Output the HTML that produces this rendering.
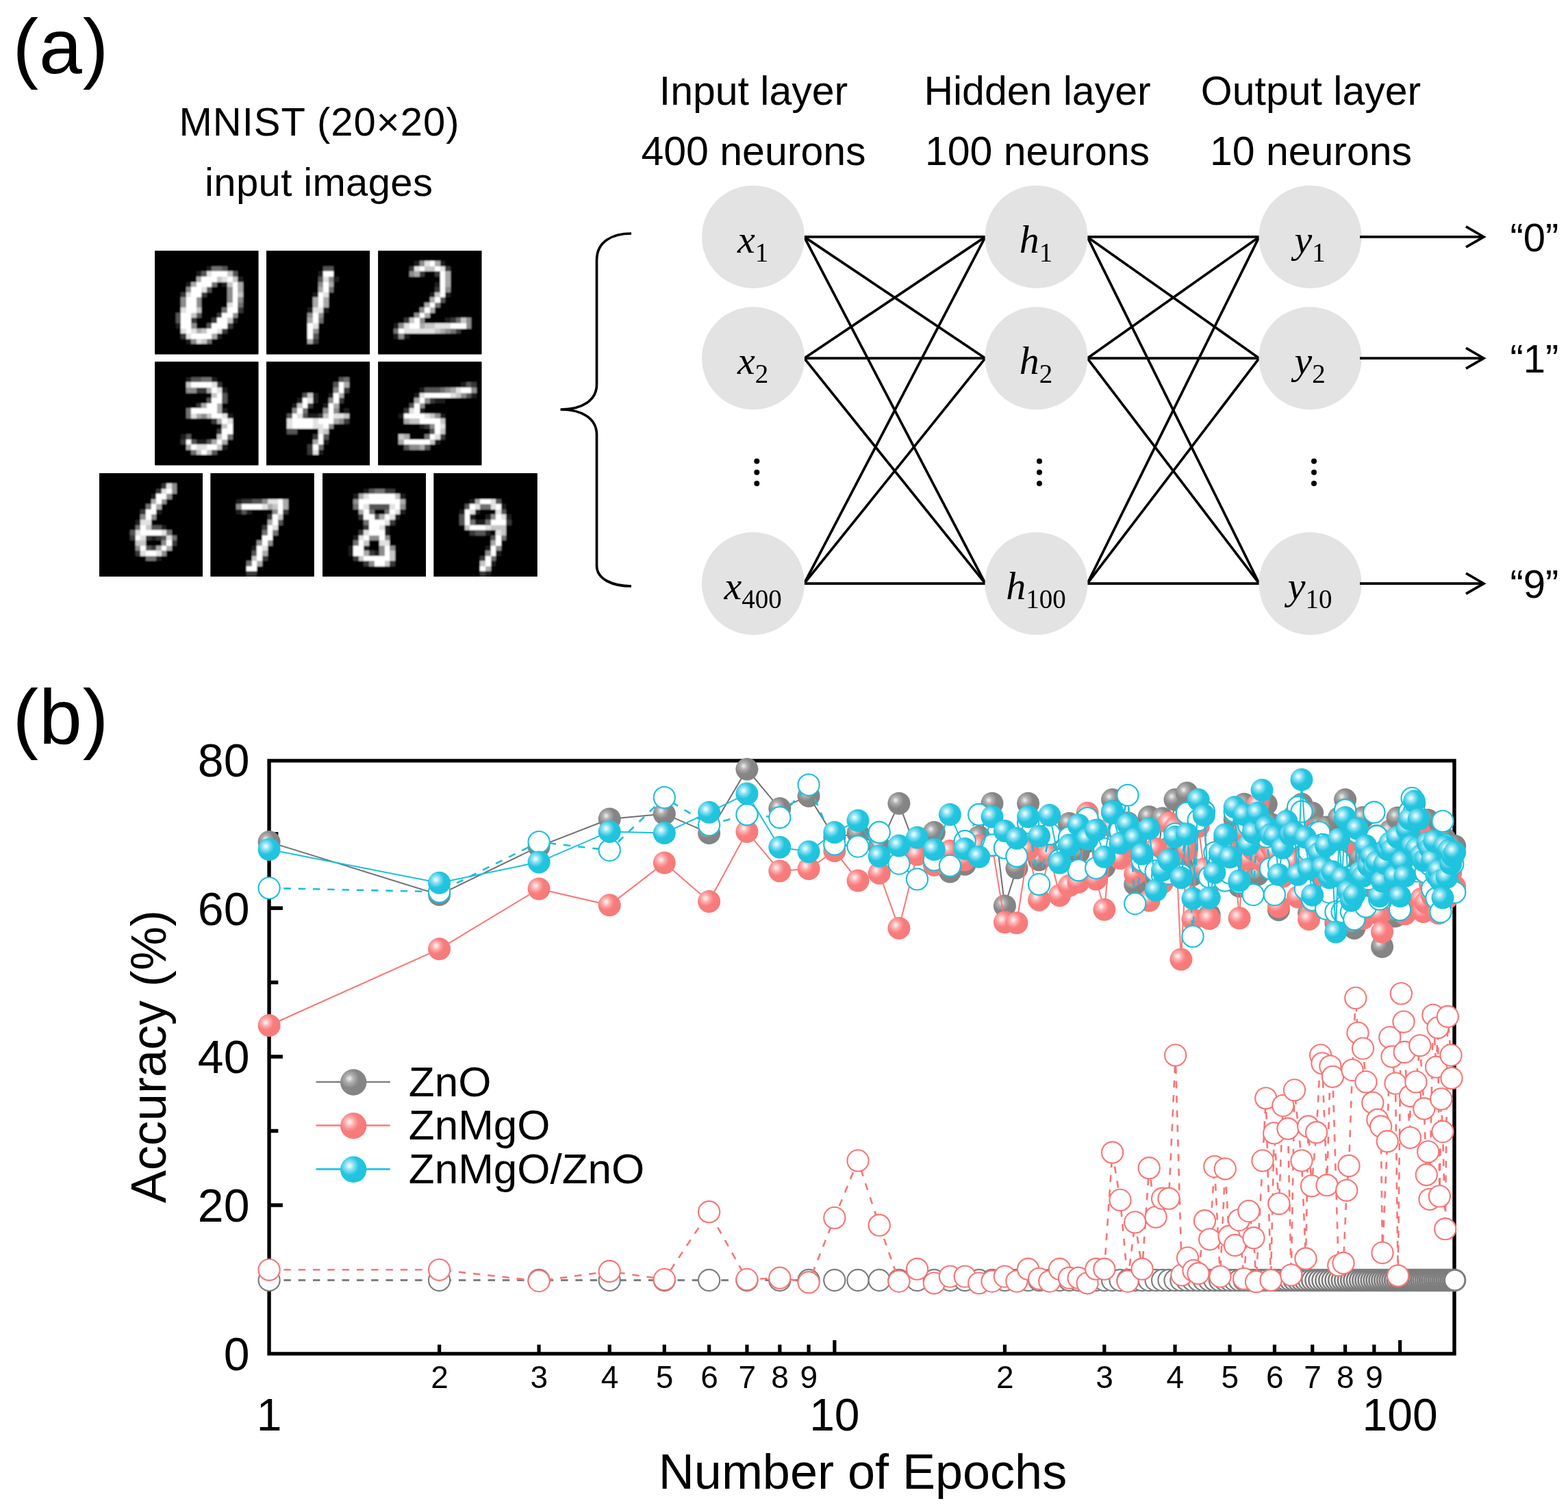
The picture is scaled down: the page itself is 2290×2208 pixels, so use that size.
<!DOCTYPE html>
<html><head><meta charset="utf-8"><title>Figure</title>
<style>html,body{margin:0;padding:0;background:#fff;} svg{display:block;}</style>
</head><body>
<svg width="2290" height="2208" viewBox="0 0 2290 2208">

<defs>
 <radialGradient id="gC" cx="0.35" cy="0.36" r="0.66" fx="0.35" fy="0.36">
  <stop offset="0" stop-color="#f2fcff"/><stop offset="0.1" stop-color="#d2f4fa"/><stop offset="0.24" stop-color="#8fe2f2"/>
  <stop offset="0.4" stop-color="#56d2ea"/><stop offset="0.55" stop-color="#22c5df"/><stop offset="1" stop-color="#1ec3dd"/>
 </radialGradient>
 <radialGradient id="gP" cx="0.35" cy="0.36" r="0.66" fx="0.35" fy="0.36">
  <stop offset="0" stop-color="#fff2f2"/><stop offset="0.1" stop-color="#ffdede"/><stop offset="0.24" stop-color="#fcb4b4"/>
  <stop offset="0.4" stop-color="#fa9494"/><stop offset="0.55" stop-color="#f87c7c"/><stop offset="1" stop-color="#f77a7a"/>
 </radialGradient>
 <radialGradient id="gG" cx="0.35" cy="0.36" r="0.66" fx="0.35" fy="0.36">
  <stop offset="0" stop-color="#f0f0f0"/><stop offset="0.1" stop-color="#d8d8d8"/><stop offset="0.24" stop-color="#b0b0b0"/>
  <stop offset="0.4" stop-color="#9a9a9a"/><stop offset="0.55" stop-color="#868686"/><stop offset="1" stop-color="#838383"/>
 </radialGradient>
 <filter id="pxblur" filterUnits="userSpaceOnUse" x="0" y="0" width="20" height="20"><feGaussianBlur stdDeviation="0.16"/></filter>
</defs>
<rect width="2290" height="2208" fill="#fff"/>
<text x="18.5" y="106.5" font-family="'Liberation Sans', Arial, sans-serif" font-size="113" textLength="140" fill="#000">(a)</text>
<text x="466" y="197.9" font-family="'Liberation Sans', Arial, sans-serif" font-size="58" text-anchor="middle" textLength="409" fill="#000">MNIST (20×20)</text>
<text x="465.5" y="286" font-family="'Liberation Sans', Arial, sans-serif" font-size="58" text-anchor="middle" textLength="333" fill="#000">input images</text>
<rect x="226.3" y="366.3" width="151" height="151" fill="#000"/>
<g transform="translate(226.3,366.3) scale(7.5500)"><g filter="url(#pxblur)" shape-rendering="crispEdges"><rect width="20" height="20" fill="#000"/><rect x="10" y="3" width="1" height="1" fill="rgb(28,28,28)"/><rect x="11" y="3" width="1" height="1" fill="rgb(113,113,113)"/><rect x="12" y="3" width="1" height="1" fill="rgb(113,113,113)"/><rect x="13" y="3" width="1" height="1" fill="rgb(85,85,85)"/><rect x="8" y="4" width="1" height="1" fill="rgb(28,28,28)"/><rect x="9" y="4" width="1" height="1" fill="rgb(85,85,85)"/><rect x="10" y="4" width="1" height="1" fill="rgb(226,226,226)"/><rect x="11" y="4" width="1" height="1" fill="rgb(255,255,255)"/><rect x="12" y="4" width="1" height="1" fill="rgb(255,255,255)"/><rect x="13" y="4" width="1" height="1" fill="rgb(255,255,255)"/><rect x="14" y="4" width="1" height="1" fill="rgb(198,198,198)"/><rect x="15" y="4" width="1" height="1" fill="rgb(85,85,85)"/><rect x="8" y="5" width="1" height="1" fill="rgb(170,170,170)"/><rect x="9" y="5" width="1" height="1" fill="rgb(255,255,255)"/><rect x="10" y="5" width="1" height="1" fill="rgb(255,255,255)"/><rect x="11" y="5" width="1" height="1" fill="rgb(255,255,255)"/><rect x="12" y="5" width="1" height="1" fill="rgb(198,198,198)"/><rect x="13" y="5" width="1" height="1" fill="rgb(226,226,226)"/><rect x="14" y="5" width="1" height="1" fill="rgb(255,255,255)"/><rect x="15" y="5" width="1" height="1" fill="rgb(198,198,198)"/><rect x="16" y="5" width="1" height="1" fill="rgb(28,28,28)"/><rect x="6" y="6" width="1" height="1" fill="rgb(28,28,28)"/><rect x="7" y="6" width="1" height="1" fill="rgb(170,170,170)"/><rect x="8" y="6" width="1" height="1" fill="rgb(255,255,255)"/><rect x="9" y="6" width="1" height="1" fill="rgb(255,255,255)"/><rect x="10" y="6" width="1" height="1" fill="rgb(255,255,255)"/><rect x="11" y="6" width="1" height="1" fill="rgb(113,113,113)"/><rect x="13" y="6" width="1" height="1" fill="rgb(28,28,28)"/><rect x="14" y="6" width="1" height="1" fill="rgb(198,198,198)"/><rect x="15" y="6" width="1" height="1" fill="rgb(255,255,255)"/><rect x="16" y="6" width="1" height="1" fill="rgb(170,170,170)"/><rect x="6" y="7" width="1" height="1" fill="rgb(141,141,141)"/><rect x="7" y="7" width="1" height="1" fill="rgb(255,255,255)"/><rect x="8" y="7" width="1" height="1" fill="rgb(255,255,255)"/><rect x="9" y="7" width="1" height="1" fill="rgb(226,226,226)"/><rect x="10" y="7" width="1" height="1" fill="rgb(85,85,85)"/><rect x="14" y="7" width="1" height="1" fill="rgb(141,141,141)"/><rect x="15" y="7" width="1" height="1" fill="rgb(255,255,255)"/><rect x="16" y="7" width="1" height="1" fill="rgb(170,170,170)"/><rect x="5" y="8" width="1" height="1" fill="rgb(56,56,56)"/><rect x="6" y="8" width="1" height="1" fill="rgb(226,226,226)"/><rect x="7" y="8" width="1" height="1" fill="rgb(255,255,255)"/><rect x="8" y="8" width="1" height="1" fill="rgb(255,255,255)"/><rect x="9" y="8" width="1" height="1" fill="rgb(56,56,56)"/><rect x="14" y="8" width="1" height="1" fill="rgb(141,141,141)"/><rect x="15" y="8" width="1" height="1" fill="rgb(255,255,255)"/><rect x="16" y="8" width="1" height="1" fill="rgb(198,198,198)"/><rect x="5" y="9" width="1" height="1" fill="rgb(141,141,141)"/><rect x="6" y="9" width="1" height="1" fill="rgb(255,255,255)"/><rect x="7" y="9" width="1" height="1" fill="rgb(255,255,255)"/><rect x="8" y="9" width="1" height="1" fill="rgb(141,141,141)"/><rect x="14" y="9" width="1" height="1" fill="rgb(141,141,141)"/><rect x="15" y="9" width="1" height="1" fill="rgb(255,255,255)"/><rect x="16" y="9" width="1" height="1" fill="rgb(141,141,141)"/><rect x="5" y="10" width="1" height="1" fill="rgb(141,141,141)"/><rect x="6" y="10" width="1" height="1" fill="rgb(255,255,255)"/><rect x="7" y="10" width="1" height="1" fill="rgb(255,255,255)"/><rect x="8" y="10" width="1" height="1" fill="rgb(141,141,141)"/><rect x="14" y="10" width="1" height="1" fill="rgb(226,226,226)"/><rect x="15" y="10" width="1" height="1" fill="rgb(255,255,255)"/><rect x="16" y="10" width="1" height="1" fill="rgb(113,113,113)"/><rect x="5" y="11" width="1" height="1" fill="rgb(226,226,226)"/><rect x="6" y="11" width="1" height="1" fill="rgb(255,255,255)"/><rect x="7" y="11" width="1" height="1" fill="rgb(255,255,255)"/><rect x="8" y="11" width="1" height="1" fill="rgb(198,198,198)"/><rect x="13" y="11" width="1" height="1" fill="rgb(113,113,113)"/><rect x="14" y="11" width="1" height="1" fill="rgb(255,255,255)"/><rect x="15" y="11" width="1" height="1" fill="rgb(255,255,255)"/><rect x="16" y="11" width="1" height="1" fill="rgb(56,56,56)"/><rect x="4" y="12" width="1" height="1" fill="rgb(85,85,85)"/><rect x="5" y="12" width="1" height="1" fill="rgb(255,255,255)"/><rect x="6" y="12" width="1" height="1" fill="rgb(255,255,255)"/><rect x="7" y="12" width="1" height="1" fill="rgb(198,198,198)"/><rect x="8" y="12" width="1" height="1" fill="rgb(85,85,85)"/><rect x="12" y="12" width="1" height="1" fill="rgb(56,56,56)"/><rect x="13" y="12" width="1" height="1" fill="rgb(255,255,255)"/><rect x="14" y="12" width="1" height="1" fill="rgb(255,255,255)"/><rect x="15" y="12" width="1" height="1" fill="rgb(141,141,141)"/><rect x="4" y="13" width="1" height="1" fill="rgb(85,85,85)"/><rect x="5" y="13" width="1" height="1" fill="rgb(255,255,255)"/><rect x="6" y="13" width="1" height="1" fill="rgb(255,255,255)"/><rect x="7" y="13" width="1" height="1" fill="rgb(56,56,56)"/><rect x="11" y="13" width="1" height="1" fill="rgb(56,56,56)"/><rect x="12" y="13" width="1" height="1" fill="rgb(255,255,255)"/><rect x="13" y="13" width="1" height="1" fill="rgb(255,255,255)"/><rect x="14" y="13" width="1" height="1" fill="rgb(198,198,198)"/><rect x="15" y="13" width="1" height="1" fill="rgb(28,28,28)"/><rect x="4" y="14" width="1" height="1" fill="rgb(28,28,28)"/><rect x="5" y="14" width="1" height="1" fill="rgb(255,255,255)"/><rect x="6" y="14" width="1" height="1" fill="rgb(255,255,255)"/><rect x="7" y="14" width="1" height="1" fill="rgb(141,141,141)"/><rect x="10" y="14" width="1" height="1" fill="rgb(85,85,85)"/><rect x="11" y="14" width="1" height="1" fill="rgb(255,255,255)"/><rect x="12" y="14" width="1" height="1" fill="rgb(255,255,255)"/><rect x="13" y="14" width="1" height="1" fill="rgb(255,255,255)"/><rect x="14" y="14" width="1" height="1" fill="rgb(56,56,56)"/><rect x="5" y="15" width="1" height="1" fill="rgb(226,226,226)"/><rect x="6" y="15" width="1" height="1" fill="rgb(255,255,255)"/><rect x="7" y="15" width="1" height="1" fill="rgb(226,226,226)"/><rect x="8" y="15" width="1" height="1" fill="rgb(170,170,170)"/><rect x="9" y="15" width="1" height="1" fill="rgb(198,198,198)"/><rect x="10" y="15" width="1" height="1" fill="rgb(255,255,255)"/><rect x="11" y="15" width="1" height="1" fill="rgb(255,255,255)"/><rect x="12" y="15" width="1" height="1" fill="rgb(226,226,226)"/><rect x="13" y="15" width="1" height="1" fill="rgb(56,56,56)"/><rect x="5" y="16" width="1" height="1" fill="rgb(56,56,56)"/><rect x="6" y="16" width="1" height="1" fill="rgb(226,226,226)"/><rect x="7" y="16" width="1" height="1" fill="rgb(255,255,255)"/><rect x="8" y="16" width="1" height="1" fill="rgb(255,255,255)"/><rect x="9" y="16" width="1" height="1" fill="rgb(255,255,255)"/><rect x="10" y="16" width="1" height="1" fill="rgb(255,255,255)"/><rect x="11" y="16" width="1" height="1" fill="rgb(170,170,170)"/><rect x="12" y="16" width="1" height="1" fill="rgb(28,28,28)"/><rect x="6" y="17" width="1" height="1" fill="rgb(28,28,28)"/><rect x="7" y="17" width="1" height="1" fill="rgb(141,141,141)"/><rect x="8" y="17" width="1" height="1" fill="rgb(226,226,226)"/><rect x="9" y="17" width="1" height="1" fill="rgb(198,198,198)"/><rect x="10" y="17" width="1" height="1" fill="rgb(113,113,113)"/></g></g>
<rect x="389" y="366.3" width="151" height="151" fill="#000"/>
<g transform="translate(389,366.3) scale(7.5500)"><g filter="url(#pxblur)" shape-rendering="crispEdges"><rect width="20" height="20" fill="#000"/><rect x="11" y="3" width="1" height="1" fill="rgb(85,85,85)"/><rect x="12" y="3" width="1" height="1" fill="rgb(85,85,85)"/><rect x="10" y="4" width="1" height="1" fill="rgb(28,28,28)"/><rect x="11" y="4" width="1" height="1" fill="rgb(255,255,255)"/><rect x="12" y="4" width="1" height="1" fill="rgb(255,255,255)"/><rect x="10" y="5" width="1" height="1" fill="rgb(85,85,85)"/><rect x="11" y="5" width="1" height="1" fill="rgb(226,226,226)"/><rect x="12" y="5" width="1" height="1" fill="rgb(141,141,141)"/><rect x="13" y="5" width="1" height="1" fill="rgb(28,28,28)"/><rect x="10" y="6" width="1" height="1" fill="rgb(141,141,141)"/><rect x="11" y="6" width="1" height="1" fill="rgb(255,255,255)"/><rect x="12" y="6" width="1" height="1" fill="rgb(170,170,170)"/><rect x="10" y="7" width="1" height="1" fill="rgb(170,170,170)"/><rect x="11" y="7" width="1" height="1" fill="rgb(255,255,255)"/><rect x="12" y="7" width="1" height="1" fill="rgb(113,113,113)"/><rect x="9" y="8" width="1" height="1" fill="rgb(28,28,28)"/><rect x="10" y="8" width="1" height="1" fill="rgb(255,255,255)"/><rect x="11" y="8" width="1" height="1" fill="rgb(226,226,226)"/><rect x="9" y="9" width="1" height="1" fill="rgb(170,170,170)"/><rect x="10" y="9" width="1" height="1" fill="rgb(255,255,255)"/><rect x="11" y="9" width="1" height="1" fill="rgb(170,170,170)"/><rect x="9" y="10" width="1" height="1" fill="rgb(170,170,170)"/><rect x="10" y="10" width="1" height="1" fill="rgb(255,255,255)"/><rect x="11" y="10" width="1" height="1" fill="rgb(170,170,170)"/><rect x="8" y="11" width="1" height="1" fill="rgb(28,28,28)"/><rect x="9" y="11" width="1" height="1" fill="rgb(226,226,226)"/><rect x="10" y="11" width="1" height="1" fill="rgb(226,226,226)"/><rect x="11" y="11" width="1" height="1" fill="rgb(28,28,28)"/><rect x="8" y="12" width="1" height="1" fill="rgb(141,141,141)"/><rect x="9" y="12" width="1" height="1" fill="rgb(255,255,255)"/><rect x="10" y="12" width="1" height="1" fill="rgb(141,141,141)"/><rect x="8" y="13" width="1" height="1" fill="rgb(170,170,170)"/><rect x="9" y="13" width="1" height="1" fill="rgb(255,255,255)"/><rect x="10" y="13" width="1" height="1" fill="rgb(113,113,113)"/><rect x="8" y="14" width="1" height="1" fill="rgb(255,255,255)"/><rect x="9" y="14" width="1" height="1" fill="rgb(226,226,226)"/><rect x="8" y="15" width="1" height="1" fill="rgb(255,255,255)"/><rect x="9" y="15" width="1" height="1" fill="rgb(141,141,141)"/><rect x="8" y="16" width="1" height="1" fill="rgb(255,255,255)"/><rect x="9" y="16" width="1" height="1" fill="rgb(85,85,85)"/><rect x="8" y="17" width="1" height="1" fill="rgb(170,170,170)"/><rect x="9" y="17" width="1" height="1" fill="rgb(56,56,56)"/></g></g>
<rect x="552.3" y="366.3" width="151" height="151" fill="#000"/>
<g transform="translate(552.3,366.3) scale(7.5500)"><g filter="url(#pxblur)" shape-rendering="crispEdges"><rect width="20" height="20" fill="#000"/><rect x="7" y="2" width="1" height="1" fill="rgb(28,28,28)"/><rect x="8" y="2" width="1" height="1" fill="rgb(141,141,141)"/><rect x="9" y="2" width="1" height="1" fill="rgb(226,226,226)"/><rect x="10" y="2" width="1" height="1" fill="rgb(255,255,255)"/><rect x="11" y="2" width="1" height="1" fill="rgb(170,170,170)"/><rect x="12" y="2" width="1" height="1" fill="rgb(28,28,28)"/><rect x="6" y="3" width="1" height="1" fill="rgb(56,56,56)"/><rect x="7" y="3" width="1" height="1" fill="rgb(226,226,226)"/><rect x="8" y="3" width="1" height="1" fill="rgb(255,255,255)"/><rect x="9" y="3" width="1" height="1" fill="rgb(198,198,198)"/><rect x="10" y="3" width="1" height="1" fill="rgb(198,198,198)"/><rect x="11" y="3" width="1" height="1" fill="rgb(255,255,255)"/><rect x="12" y="3" width="1" height="1" fill="rgb(226,226,226)"/><rect x="13" y="3" width="1" height="1" fill="rgb(56,56,56)"/><rect x="6" y="4" width="1" height="1" fill="rgb(141,141,141)"/><rect x="7" y="4" width="1" height="1" fill="rgb(170,170,170)"/><rect x="8" y="4" width="1" height="1" fill="rgb(56,56,56)"/><rect x="11" y="4" width="1" height="1" fill="rgb(56,56,56)"/><rect x="12" y="4" width="1" height="1" fill="rgb(255,255,255)"/><rect x="13" y="4" width="1" height="1" fill="rgb(170,170,170)"/><rect x="12" y="5" width="1" height="1" fill="rgb(255,255,255)"/><rect x="13" y="5" width="1" height="1" fill="rgb(170,170,170)"/><rect x="11" y="6" width="1" height="1" fill="rgb(28,28,28)"/><rect x="12" y="6" width="1" height="1" fill="rgb(255,255,255)"/><rect x="13" y="6" width="1" height="1" fill="rgb(170,170,170)"/><rect x="11" y="7" width="1" height="1" fill="rgb(56,56,56)"/><rect x="12" y="7" width="1" height="1" fill="rgb(255,255,255)"/><rect x="13" y="7" width="1" height="1" fill="rgb(141,141,141)"/><rect x="10" y="8" width="1" height="1" fill="rgb(28,28,28)"/><rect x="11" y="8" width="1" height="1" fill="rgb(198,198,198)"/><rect x="12" y="8" width="1" height="1" fill="rgb(255,255,255)"/><rect x="13" y="8" width="1" height="1" fill="rgb(28,28,28)"/><rect x="10" y="9" width="1" height="1" fill="rgb(170,170,170)"/><rect x="11" y="9" width="1" height="1" fill="rgb(255,255,255)"/><rect x="12" y="9" width="1" height="1" fill="rgb(85,85,85)"/><rect x="9" y="10" width="1" height="1" fill="rgb(170,170,170)"/><rect x="10" y="10" width="1" height="1" fill="rgb(255,255,255)"/><rect x="11" y="10" width="1" height="1" fill="rgb(113,113,113)"/><rect x="8" y="11" width="1" height="1" fill="rgb(141,141,141)"/><rect x="9" y="11" width="1" height="1" fill="rgb(255,255,255)"/><rect x="10" y="11" width="1" height="1" fill="rgb(170,170,170)"/><rect x="7" y="12" width="1" height="1" fill="rgb(141,141,141)"/><rect x="8" y="12" width="1" height="1" fill="rgb(255,255,255)"/><rect x="9" y="12" width="1" height="1" fill="rgb(170,170,170)"/><rect x="5" y="13" width="1" height="1" fill="rgb(56,56,56)"/><rect x="6" y="13" width="1" height="1" fill="rgb(198,198,198)"/><rect x="7" y="13" width="1" height="1" fill="rgb(255,255,255)"/><rect x="8" y="13" width="1" height="1" fill="rgb(141,141,141)"/><rect x="13" y="13" width="1" height="1" fill="rgb(28,28,28)"/><rect x="14" y="13" width="1" height="1" fill="rgb(56,56,56)"/><rect x="15" y="13" width="1" height="1" fill="rgb(113,113,113)"/><rect x="16" y="13" width="1" height="1" fill="rgb(198,198,198)"/><rect x="17" y="13" width="1" height="1" fill="rgb(141,141,141)"/><rect x="3" y="14" width="1" height="1" fill="rgb(28,28,28)"/><rect x="4" y="14" width="1" height="1" fill="rgb(141,141,141)"/><rect x="5" y="14" width="1" height="1" fill="rgb(226,226,226)"/><rect x="6" y="14" width="1" height="1" fill="rgb(255,255,255)"/><rect x="7" y="14" width="1" height="1" fill="rgb(255,255,255)"/><rect x="8" y="14" width="1" height="1" fill="rgb(170,170,170)"/><rect x="9" y="14" width="1" height="1" fill="rgb(198,198,198)"/><rect x="10" y="14" width="1" height="1" fill="rgb(198,198,198)"/><rect x="11" y="14" width="1" height="1" fill="rgb(226,226,226)"/><rect x="12" y="14" width="1" height="1" fill="rgb(226,226,226)"/><rect x="13" y="14" width="1" height="1" fill="rgb(226,226,226)"/><rect x="14" y="14" width="1" height="1" fill="rgb(255,255,255)"/><rect x="15" y="14" width="1" height="1" fill="rgb(255,255,255)"/><rect x="16" y="14" width="1" height="1" fill="rgb(255,255,255)"/><rect x="17" y="14" width="1" height="1" fill="rgb(141,141,141)"/><rect x="3" y="15" width="1" height="1" fill="rgb(113,113,113)"/><rect x="4" y="15" width="1" height="1" fill="rgb(255,255,255)"/><rect x="5" y="15" width="1" height="1" fill="rgb(226,226,226)"/><rect x="6" y="15" width="1" height="1" fill="rgb(226,226,226)"/><rect x="7" y="15" width="1" height="1" fill="rgb(226,226,226)"/><rect x="8" y="15" width="1" height="1" fill="rgb(226,226,226)"/><rect x="9" y="15" width="1" height="1" fill="rgb(226,226,226)"/><rect x="10" y="15" width="1" height="1" fill="rgb(226,226,226)"/><rect x="11" y="15" width="1" height="1" fill="rgb(198,198,198)"/><rect x="12" y="15" width="1" height="1" fill="rgb(170,170,170)"/><rect x="13" y="15" width="1" height="1" fill="rgb(141,141,141)"/><rect x="14" y="15" width="1" height="1" fill="rgb(113,113,113)"/><rect x="15" y="15" width="1" height="1" fill="rgb(56,56,56)"/><rect x="3" y="16" width="1" height="1" fill="rgb(28,28,28)"/><rect x="4" y="16" width="1" height="1" fill="rgb(141,141,141)"/><rect x="5" y="16" width="1" height="1" fill="rgb(28,28,28)"/></g></g>
<rect x="226.3" y="528.3" width="151" height="151" fill="#000"/>
<g transform="translate(226.3,528.3) scale(7.5500)"><g filter="url(#pxblur)" shape-rendering="crispEdges"><rect width="20" height="20" fill="#000"/><rect x="6" y="3" width="1" height="1" fill="rgb(28,28,28)"/><rect x="7" y="3" width="1" height="1" fill="rgb(85,85,85)"/><rect x="8" y="3" width="1" height="1" fill="rgb(85,85,85)"/><rect x="9" y="3" width="1" height="1" fill="rgb(113,113,113)"/><rect x="10" y="3" width="1" height="1" fill="rgb(113,113,113)"/><rect x="11" y="3" width="1" height="1" fill="rgb(28,28,28)"/><rect x="6" y="4" width="1" height="1" fill="rgb(198,198,198)"/><rect x="7" y="4" width="1" height="1" fill="rgb(255,255,255)"/><rect x="8" y="4" width="1" height="1" fill="rgb(255,255,255)"/><rect x="9" y="4" width="1" height="1" fill="rgb(255,255,255)"/><rect x="10" y="4" width="1" height="1" fill="rgb(255,255,255)"/><rect x="11" y="4" width="1" height="1" fill="rgb(226,226,226)"/><rect x="12" y="4" width="1" height="1" fill="rgb(56,56,56)"/><rect x="6" y="5" width="1" height="1" fill="rgb(141,141,141)"/><rect x="7" y="5" width="1" height="1" fill="rgb(141,141,141)"/><rect x="8" y="5" width="1" height="1" fill="rgb(56,56,56)"/><rect x="9" y="5" width="1" height="1" fill="rgb(56,56,56)"/><rect x="10" y="5" width="1" height="1" fill="rgb(170,170,170)"/><rect x="11" y="5" width="1" height="1" fill="rgb(255,255,255)"/><rect x="12" y="5" width="1" height="1" fill="rgb(226,226,226)"/><rect x="13" y="5" width="1" height="1" fill="rgb(28,28,28)"/><rect x="11" y="6" width="1" height="1" fill="rgb(198,198,198)"/><rect x="12" y="6" width="1" height="1" fill="rgb(255,255,255)"/><rect x="13" y="6" width="1" height="1" fill="rgb(85,85,85)"/><rect x="10" y="7" width="1" height="1" fill="rgb(85,85,85)"/><rect x="11" y="7" width="1" height="1" fill="rgb(255,255,255)"/><rect x="12" y="7" width="1" height="1" fill="rgb(255,255,255)"/><rect x="13" y="7" width="1" height="1" fill="rgb(85,85,85)"/><rect x="8" y="8" width="1" height="1" fill="rgb(56,56,56)"/><rect x="9" y="8" width="1" height="1" fill="rgb(170,170,170)"/><rect x="10" y="8" width="1" height="1" fill="rgb(255,255,255)"/><rect x="11" y="8" width="1" height="1" fill="rgb(255,255,255)"/><rect x="12" y="8" width="1" height="1" fill="rgb(170,170,170)"/><rect x="6" y="9" width="1" height="1" fill="rgb(113,113,113)"/><rect x="7" y="9" width="1" height="1" fill="rgb(255,255,255)"/><rect x="8" y="9" width="1" height="1" fill="rgb(255,255,255)"/><rect x="9" y="9" width="1" height="1" fill="rgb(255,255,255)"/><rect x="10" y="9" width="1" height="1" fill="rgb(255,255,255)"/><rect x="11" y="9" width="1" height="1" fill="rgb(255,255,255)"/><rect x="12" y="9" width="1" height="1" fill="rgb(170,170,170)"/><rect x="13" y="9" width="1" height="1" fill="rgb(28,28,28)"/><rect x="6" y="10" width="1" height="1" fill="rgb(113,113,113)"/><rect x="7" y="10" width="1" height="1" fill="rgb(226,226,226)"/><rect x="8" y="10" width="1" height="1" fill="rgb(170,170,170)"/><rect x="9" y="10" width="1" height="1" fill="rgb(141,141,141)"/><rect x="10" y="10" width="1" height="1" fill="rgb(198,198,198)"/><rect x="11" y="10" width="1" height="1" fill="rgb(255,255,255)"/><rect x="12" y="10" width="1" height="1" fill="rgb(255,255,255)"/><rect x="13" y="10" width="1" height="1" fill="rgb(226,226,226)"/><rect x="14" y="10" width="1" height="1" fill="rgb(28,28,28)"/><rect x="11" y="11" width="1" height="1" fill="rgb(56,56,56)"/><rect x="12" y="11" width="1" height="1" fill="rgb(170,170,170)"/><rect x="13" y="11" width="1" height="1" fill="rgb(255,255,255)"/><rect x="14" y="11" width="1" height="1" fill="rgb(226,226,226)"/><rect x="13" y="12" width="1" height="1" fill="rgb(198,198,198)"/><rect x="14" y="12" width="1" height="1" fill="rgb(255,255,255)"/><rect x="12" y="13" width="1" height="1" fill="rgb(56,56,56)"/><rect x="13" y="13" width="1" height="1" fill="rgb(255,255,255)"/><rect x="14" y="13" width="1" height="1" fill="rgb(255,255,255)"/><rect x="5" y="14" width="1" height="1" fill="rgb(28,28,28)"/><rect x="6" y="14" width="1" height="1" fill="rgb(85,85,85)"/><rect x="12" y="14" width="1" height="1" fill="rgb(198,198,198)"/><rect x="13" y="14" width="1" height="1" fill="rgb(255,255,255)"/><rect x="14" y="14" width="1" height="1" fill="rgb(113,113,113)"/><rect x="5" y="15" width="1" height="1" fill="rgb(56,56,56)"/><rect x="6" y="15" width="1" height="1" fill="rgb(255,255,255)"/><rect x="7" y="15" width="1" height="1" fill="rgb(85,85,85)"/><rect x="8" y="15" width="1" height="1" fill="rgb(28,28,28)"/><rect x="9" y="15" width="1" height="1" fill="rgb(28,28,28)"/><rect x="10" y="15" width="1" height="1" fill="rgb(85,85,85)"/><rect x="11" y="15" width="1" height="1" fill="rgb(170,170,170)"/><rect x="12" y="15" width="1" height="1" fill="rgb(255,255,255)"/><rect x="13" y="15" width="1" height="1" fill="rgb(170,170,170)"/><rect x="6" y="16" width="1" height="1" fill="rgb(170,170,170)"/><rect x="7" y="16" width="1" height="1" fill="rgb(255,255,255)"/><rect x="8" y="16" width="1" height="1" fill="rgb(226,226,226)"/><rect x="9" y="16" width="1" height="1" fill="rgb(226,226,226)"/><rect x="10" y="16" width="1" height="1" fill="rgb(255,255,255)"/><rect x="11" y="16" width="1" height="1" fill="rgb(255,255,255)"/><rect x="12" y="16" width="1" height="1" fill="rgb(198,198,198)"/><rect x="13" y="16" width="1" height="1" fill="rgb(28,28,28)"/><rect x="7" y="17" width="1" height="1" fill="rgb(113,113,113)"/><rect x="8" y="17" width="1" height="1" fill="rgb(198,198,198)"/><rect x="9" y="17" width="1" height="1" fill="rgb(255,255,255)"/><rect x="10" y="17" width="1" height="1" fill="rgb(198,198,198)"/><rect x="11" y="17" width="1" height="1" fill="rgb(85,85,85)"/></g></g>
<rect x="389" y="528.3" width="151" height="151" fill="#000"/>
<g transform="translate(389,528.3) scale(7.5500)"><g filter="url(#pxblur)" shape-rendering="crispEdges"><rect width="20" height="20" fill="#000"/><rect x="14" y="3" width="1" height="1" fill="rgb(85,85,85)"/><rect x="15" y="3" width="1" height="1" fill="rgb(113,113,113)"/><rect x="13" y="4" width="1" height="1" fill="rgb(85,85,85)"/><rect x="14" y="4" width="1" height="1" fill="rgb(255,255,255)"/><rect x="15" y="4" width="1" height="1" fill="rgb(170,170,170)"/><rect x="13" y="5" width="1" height="1" fill="rgb(141,141,141)"/><rect x="14" y="5" width="1" height="1" fill="rgb(255,255,255)"/><rect x="15" y="5" width="1" height="1" fill="rgb(56,56,56)"/><rect x="7" y="6" width="1" height="1" fill="rgb(85,85,85)"/><rect x="8" y="6" width="1" height="1" fill="rgb(198,198,198)"/><rect x="9" y="6" width="1" height="1" fill="rgb(28,28,28)"/><rect x="12" y="6" width="1" height="1" fill="rgb(28,28,28)"/><rect x="13" y="6" width="1" height="1" fill="rgb(255,255,255)"/><rect x="14" y="6" width="1" height="1" fill="rgb(170,170,170)"/><rect x="6" y="7" width="1" height="1" fill="rgb(28,28,28)"/><rect x="7" y="7" width="1" height="1" fill="rgb(255,255,255)"/><rect x="8" y="7" width="1" height="1" fill="rgb(226,226,226)"/><rect x="9" y="7" width="1" height="1" fill="rgb(28,28,28)"/><rect x="12" y="7" width="1" height="1" fill="rgb(141,141,141)"/><rect x="13" y="7" width="1" height="1" fill="rgb(255,255,255)"/><rect x="14" y="7" width="1" height="1" fill="rgb(56,56,56)"/><rect x="5" y="8" width="1" height="1" fill="rgb(28,28,28)"/><rect x="6" y="8" width="1" height="1" fill="rgb(198,198,198)"/><rect x="7" y="8" width="1" height="1" fill="rgb(255,255,255)"/><rect x="8" y="8" width="1" height="1" fill="rgb(56,56,56)"/><rect x="11" y="8" width="1" height="1" fill="rgb(28,28,28)"/><rect x="12" y="8" width="1" height="1" fill="rgb(255,255,255)"/><rect x="13" y="8" width="1" height="1" fill="rgb(170,170,170)"/><rect x="5" y="9" width="1" height="1" fill="rgb(141,141,141)"/><rect x="6" y="9" width="1" height="1" fill="rgb(255,255,255)"/><rect x="7" y="9" width="1" height="1" fill="rgb(113,113,113)"/><rect x="11" y="9" width="1" height="1" fill="rgb(141,141,141)"/><rect x="12" y="9" width="1" height="1" fill="rgb(255,255,255)"/><rect x="13" y="9" width="1" height="1" fill="rgb(141,141,141)"/><rect x="15" y="9" width="1" height="1" fill="rgb(28,28,28)"/><rect x="4" y="10" width="1" height="1" fill="rgb(85,85,85)"/><rect x="5" y="10" width="1" height="1" fill="rgb(255,255,255)"/><rect x="6" y="10" width="1" height="1" fill="rgb(226,226,226)"/><rect x="7" y="10" width="1" height="1" fill="rgb(85,85,85)"/><rect x="8" y="10" width="1" height="1" fill="rgb(28,28,28)"/><rect x="9" y="10" width="1" height="1" fill="rgb(28,28,28)"/><rect x="10" y="10" width="1" height="1" fill="rgb(56,56,56)"/><rect x="11" y="10" width="1" height="1" fill="rgb(198,198,198)"/><rect x="12" y="10" width="1" height="1" fill="rgb(255,255,255)"/><rect x="13" y="10" width="1" height="1" fill="rgb(226,226,226)"/><rect x="14" y="10" width="1" height="1" fill="rgb(226,226,226)"/><rect x="15" y="10" width="1" height="1" fill="rgb(198,198,198)"/><rect x="4" y="11" width="1" height="1" fill="rgb(226,226,226)"/><rect x="5" y="11" width="1" height="1" fill="rgb(255,255,255)"/><rect x="6" y="11" width="1" height="1" fill="rgb(255,255,255)"/><rect x="7" y="11" width="1" height="1" fill="rgb(255,255,255)"/><rect x="8" y="11" width="1" height="1" fill="rgb(255,255,255)"/><rect x="9" y="11" width="1" height="1" fill="rgb(226,226,226)"/><rect x="10" y="11" width="1" height="1" fill="rgb(255,255,255)"/><rect x="11" y="11" width="1" height="1" fill="rgb(255,255,255)"/><rect x="12" y="11" width="1" height="1" fill="rgb(255,255,255)"/><rect x="13" y="11" width="1" height="1" fill="rgb(170,170,170)"/><rect x="14" y="11" width="1" height="1" fill="rgb(141,141,141)"/><rect x="15" y="11" width="1" height="1" fill="rgb(56,56,56)"/><rect x="4" y="12" width="1" height="1" fill="rgb(226,226,226)"/><rect x="5" y="12" width="1" height="1" fill="rgb(255,255,255)"/><rect x="6" y="12" width="1" height="1" fill="rgb(255,255,255)"/><rect x="7" y="12" width="1" height="1" fill="rgb(255,255,255)"/><rect x="8" y="12" width="1" height="1" fill="rgb(255,255,255)"/><rect x="9" y="12" width="1" height="1" fill="rgb(226,226,226)"/><rect x="10" y="12" width="1" height="1" fill="rgb(226,226,226)"/><rect x="11" y="12" width="1" height="1" fill="rgb(255,255,255)"/><rect x="12" y="12" width="1" height="1" fill="rgb(141,141,141)"/><rect x="4" y="13" width="1" height="1" fill="rgb(85,85,85)"/><rect x="5" y="13" width="1" height="1" fill="rgb(85,85,85)"/><rect x="10" y="13" width="1" height="1" fill="rgb(226,226,226)"/><rect x="11" y="13" width="1" height="1" fill="rgb(198,198,198)"/><rect x="9" y="14" width="1" height="1" fill="rgb(56,56,56)"/><rect x="10" y="14" width="1" height="1" fill="rgb(255,255,255)"/><rect x="11" y="14" width="1" height="1" fill="rgb(85,85,85)"/><rect x="9" y="15" width="1" height="1" fill="rgb(170,170,170)"/><rect x="10" y="15" width="1" height="1" fill="rgb(255,255,255)"/><rect x="11" y="15" width="1" height="1" fill="rgb(28,28,28)"/><rect x="8" y="16" width="1" height="1" fill="rgb(56,56,56)"/><rect x="9" y="16" width="1" height="1" fill="rgb(255,255,255)"/><rect x="10" y="16" width="1" height="1" fill="rgb(113,113,113)"/><rect x="8" y="17" width="1" height="1" fill="rgb(56,56,56)"/><rect x="9" y="17" width="1" height="1" fill="rgb(226,226,226)"/><rect x="10" y="17" width="1" height="1" fill="rgb(28,28,28)"/></g></g>
<rect x="552.3" y="528.3" width="151" height="151" fill="#000"/>
<g transform="translate(552.3,528.3) scale(7.5500)"><g filter="url(#pxblur)" shape-rendering="crispEdges"><rect width="20" height="20" fill="#000"/><rect x="16" y="4" width="1" height="1" fill="rgb(28,28,28)"/><rect x="17" y="4" width="1" height="1" fill="rgb(85,85,85)"/><rect x="18" y="4" width="1" height="1" fill="rgb(56,56,56)"/><rect x="8" y="5" width="1" height="1" fill="rgb(28,28,28)"/><rect x="9" y="5" width="1" height="1" fill="rgb(85,85,85)"/><rect x="10" y="5" width="1" height="1" fill="rgb(85,85,85)"/><rect x="11" y="5" width="1" height="1" fill="rgb(85,85,85)"/><rect x="12" y="5" width="1" height="1" fill="rgb(113,113,113)"/><rect x="13" y="5" width="1" height="1" fill="rgb(141,141,141)"/><rect x="14" y="5" width="1" height="1" fill="rgb(170,170,170)"/><rect x="15" y="5" width="1" height="1" fill="rgb(226,226,226)"/><rect x="16" y="5" width="1" height="1" fill="rgb(255,255,255)"/><rect x="17" y="5" width="1" height="1" fill="rgb(255,255,255)"/><rect x="18" y="5" width="1" height="1" fill="rgb(141,141,141)"/><rect x="7" y="6" width="1" height="1" fill="rgb(28,28,28)"/><rect x="8" y="6" width="1" height="1" fill="rgb(226,226,226)"/><rect x="9" y="6" width="1" height="1" fill="rgb(255,255,255)"/><rect x="10" y="6" width="1" height="1" fill="rgb(255,255,255)"/><rect x="11" y="6" width="1" height="1" fill="rgb(255,255,255)"/><rect x="12" y="6" width="1" height="1" fill="rgb(255,255,255)"/><rect x="13" y="6" width="1" height="1" fill="rgb(255,255,255)"/><rect x="14" y="6" width="1" height="1" fill="rgb(226,226,226)"/><rect x="15" y="6" width="1" height="1" fill="rgb(198,198,198)"/><rect x="16" y="6" width="1" height="1" fill="rgb(141,141,141)"/><rect x="17" y="6" width="1" height="1" fill="rgb(85,85,85)"/><rect x="18" y="6" width="1" height="1" fill="rgb(28,28,28)"/><rect x="7" y="7" width="1" height="1" fill="rgb(170,170,170)"/><rect x="8" y="7" width="1" height="1" fill="rgb(255,255,255)"/><rect x="9" y="7" width="1" height="1" fill="rgb(141,141,141)"/><rect x="10" y="7" width="1" height="1" fill="rgb(56,56,56)"/><rect x="11" y="7" width="1" height="1" fill="rgb(28,28,28)"/><rect x="12" y="7" width="1" height="1" fill="rgb(28,28,28)"/><rect x="6" y="8" width="1" height="1" fill="rgb(85,85,85)"/><rect x="7" y="8" width="1" height="1" fill="rgb(255,255,255)"/><rect x="8" y="8" width="1" height="1" fill="rgb(141,141,141)"/><rect x="5" y="9" width="1" height="1" fill="rgb(56,56,56)"/><rect x="6" y="9" width="1" height="1" fill="rgb(226,226,226)"/><rect x="7" y="9" width="1" height="1" fill="rgb(255,255,255)"/><rect x="8" y="9" width="1" height="1" fill="rgb(28,28,28)"/><rect x="4" y="10" width="1" height="1" fill="rgb(28,28,28)"/><rect x="5" y="10" width="1" height="1" fill="rgb(255,255,255)"/><rect x="6" y="10" width="1" height="1" fill="rgb(255,255,255)"/><rect x="7" y="10" width="1" height="1" fill="rgb(255,255,255)"/><rect x="8" y="10" width="1" height="1" fill="rgb(255,255,255)"/><rect x="9" y="10" width="1" height="1" fill="rgb(226,226,226)"/><rect x="10" y="10" width="1" height="1" fill="rgb(198,198,198)"/><rect x="11" y="10" width="1" height="1" fill="rgb(141,141,141)"/><rect x="12" y="10" width="1" height="1" fill="rgb(28,28,28)"/><rect x="5" y="11" width="1" height="1" fill="rgb(170,170,170)"/><rect x="6" y="11" width="1" height="1" fill="rgb(198,198,198)"/><rect x="7" y="11" width="1" height="1" fill="rgb(198,198,198)"/><rect x="8" y="11" width="1" height="1" fill="rgb(255,255,255)"/><rect x="9" y="11" width="1" height="1" fill="rgb(255,255,255)"/><rect x="10" y="11" width="1" height="1" fill="rgb(255,255,255)"/><rect x="11" y="11" width="1" height="1" fill="rgb(255,255,255)"/><rect x="12" y="11" width="1" height="1" fill="rgb(198,198,198)"/><rect x="8" y="12" width="1" height="1" fill="rgb(28,28,28)"/><rect x="9" y="12" width="1" height="1" fill="rgb(56,56,56)"/><rect x="10" y="12" width="1" height="1" fill="rgb(141,141,141)"/><rect x="11" y="12" width="1" height="1" fill="rgb(255,255,255)"/><rect x="12" y="12" width="1" height="1" fill="rgb(226,226,226)"/><rect x="10" y="13" width="1" height="1" fill="rgb(85,85,85)"/><rect x="11" y="13" width="1" height="1" fill="rgb(255,255,255)"/><rect x="12" y="13" width="1" height="1" fill="rgb(198,198,198)"/><rect x="4" y="14" width="1" height="1" fill="rgb(198,198,198)"/><rect x="5" y="14" width="1" height="1" fill="rgb(170,170,170)"/><rect x="9" y="14" width="1" height="1" fill="rgb(113,113,113)"/><rect x="10" y="14" width="1" height="1" fill="rgb(255,255,255)"/><rect x="11" y="14" width="1" height="1" fill="rgb(226,226,226)"/><rect x="12" y="14" width="1" height="1" fill="rgb(56,56,56)"/><rect x="4" y="15" width="1" height="1" fill="rgb(170,170,170)"/><rect x="5" y="15" width="1" height="1" fill="rgb(255,255,255)"/><rect x="6" y="15" width="1" height="1" fill="rgb(255,255,255)"/><rect x="7" y="15" width="1" height="1" fill="rgb(255,255,255)"/><rect x="8" y="15" width="1" height="1" fill="rgb(255,255,255)"/><rect x="9" y="15" width="1" height="1" fill="rgb(255,255,255)"/><rect x="10" y="15" width="1" height="1" fill="rgb(198,198,198)"/><rect x="11" y="15" width="1" height="1" fill="rgb(28,28,28)"/><rect x="5" y="16" width="1" height="1" fill="rgb(85,85,85)"/><rect x="6" y="16" width="1" height="1" fill="rgb(141,141,141)"/><rect x="7" y="16" width="1" height="1" fill="rgb(141,141,141)"/><rect x="8" y="16" width="1" height="1" fill="rgb(170,170,170)"/><rect x="9" y="16" width="1" height="1" fill="rgb(85,85,85)"/></g></g>
<rect x="145" y="691" width="151" height="151" fill="#000"/>
<g transform="translate(145,691) scale(7.5500)"><g filter="url(#pxblur)" shape-rendering="crispEdges"><rect width="20" height="20" fill="#000"/><rect x="12" y="2" width="1" height="1" fill="rgb(56,56,56)"/><rect x="13" y="2" width="1" height="1" fill="rgb(226,226,226)"/><rect x="14" y="2" width="1" height="1" fill="rgb(141,141,141)"/><rect x="11" y="3" width="1" height="1" fill="rgb(56,56,56)"/><rect x="12" y="3" width="1" height="1" fill="rgb(226,226,226)"/><rect x="13" y="3" width="1" height="1" fill="rgb(255,255,255)"/><rect x="14" y="3" width="1" height="1" fill="rgb(141,141,141)"/><rect x="10" y="4" width="1" height="1" fill="rgb(28,28,28)"/><rect x="11" y="4" width="1" height="1" fill="rgb(255,255,255)"/><rect x="12" y="4" width="1" height="1" fill="rgb(255,255,255)"/><rect x="13" y="4" width="1" height="1" fill="rgb(141,141,141)"/><rect x="10" y="5" width="1" height="1" fill="rgb(170,170,170)"/><rect x="11" y="5" width="1" height="1" fill="rgb(255,255,255)"/><rect x="12" y="5" width="1" height="1" fill="rgb(141,141,141)"/><rect x="9" y="6" width="1" height="1" fill="rgb(113,113,113)"/><rect x="10" y="6" width="1" height="1" fill="rgb(255,255,255)"/><rect x="11" y="6" width="1" height="1" fill="rgb(170,170,170)"/><rect x="8" y="7" width="1" height="1" fill="rgb(56,56,56)"/><rect x="9" y="7" width="1" height="1" fill="rgb(255,255,255)"/><rect x="10" y="7" width="1" height="1" fill="rgb(255,255,255)"/><rect x="11" y="7" width="1" height="1" fill="rgb(28,28,28)"/><rect x="8" y="8" width="1" height="1" fill="rgb(141,141,141)"/><rect x="9" y="8" width="1" height="1" fill="rgb(255,255,255)"/><rect x="10" y="8" width="1" height="1" fill="rgb(141,141,141)"/><rect x="7" y="9" width="1" height="1" fill="rgb(28,28,28)"/><rect x="8" y="9" width="1" height="1" fill="rgb(226,226,226)"/><rect x="9" y="9" width="1" height="1" fill="rgb(226,226,226)"/><rect x="7" y="10" width="1" height="1" fill="rgb(113,113,113)"/><rect x="8" y="10" width="1" height="1" fill="rgb(255,255,255)"/><rect x="9" y="10" width="1" height="1" fill="rgb(198,198,198)"/><rect x="10" y="10" width="1" height="1" fill="rgb(85,85,85)"/><rect x="11" y="10" width="1" height="1" fill="rgb(85,85,85)"/><rect x="12" y="10" width="1" height="1" fill="rgb(28,28,28)"/><rect x="6" y="11" width="1" height="1" fill="rgb(85,85,85)"/><rect x="7" y="11" width="1" height="1" fill="rgb(226,226,226)"/><rect x="8" y="11" width="1" height="1" fill="rgb(255,255,255)"/><rect x="9" y="11" width="1" height="1" fill="rgb(255,255,255)"/><rect x="10" y="11" width="1" height="1" fill="rgb(255,255,255)"/><rect x="11" y="11" width="1" height="1" fill="rgb(255,255,255)"/><rect x="12" y="11" width="1" height="1" fill="rgb(226,226,226)"/><rect x="13" y="11" width="1" height="1" fill="rgb(113,113,113)"/><rect x="6" y="12" width="1" height="1" fill="rgb(56,56,56)"/><rect x="7" y="12" width="1" height="1" fill="rgb(255,255,255)"/><rect x="8" y="12" width="1" height="1" fill="rgb(226,226,226)"/><rect x="9" y="12" width="1" height="1" fill="rgb(56,56,56)"/><rect x="10" y="12" width="1" height="1" fill="rgb(28,28,28)"/><rect x="11" y="12" width="1" height="1" fill="rgb(56,56,56)"/><rect x="12" y="12" width="1" height="1" fill="rgb(85,85,85)"/><rect x="13" y="12" width="1" height="1" fill="rgb(226,226,226)"/><rect x="14" y="12" width="1" height="1" fill="rgb(113,113,113)"/><rect x="7" y="13" width="1" height="1" fill="rgb(198,198,198)"/><rect x="8" y="13" width="1" height="1" fill="rgb(198,198,198)"/><rect x="12" y="13" width="1" height="1" fill="rgb(141,141,141)"/><rect x="13" y="13" width="1" height="1" fill="rgb(255,255,255)"/><rect x="14" y="13" width="1" height="1" fill="rgb(56,56,56)"/><rect x="7" y="14" width="1" height="1" fill="rgb(141,141,141)"/><rect x="8" y="14" width="1" height="1" fill="rgb(255,255,255)"/><rect x="9" y="14" width="1" height="1" fill="rgb(85,85,85)"/><rect x="10" y="14" width="1" height="1" fill="rgb(56,56,56)"/><rect x="11" y="14" width="1" height="1" fill="rgb(170,170,170)"/><rect x="12" y="14" width="1" height="1" fill="rgb(255,255,255)"/><rect x="13" y="14" width="1" height="1" fill="rgb(170,170,170)"/><rect x="7" y="15" width="1" height="1" fill="rgb(56,56,56)"/><rect x="8" y="15" width="1" height="1" fill="rgb(226,226,226)"/><rect x="9" y="15" width="1" height="1" fill="rgb(255,255,255)"/><rect x="10" y="15" width="1" height="1" fill="rgb(255,255,255)"/><rect x="11" y="15" width="1" height="1" fill="rgb(226,226,226)"/><rect x="12" y="15" width="1" height="1" fill="rgb(141,141,141)"/><rect x="9" y="16" width="1" height="1" fill="rgb(113,113,113)"/><rect x="10" y="16" width="1" height="1" fill="rgb(113,113,113)"/><rect x="11" y="16" width="1" height="1" fill="rgb(28,28,28)"/></g></g>
<rect x="307.5" y="691" width="151" height="151" fill="#000"/>
<g transform="translate(307.5,691) scale(7.5500)"><g filter="url(#pxblur)" shape-rendering="crispEdges"><rect width="20" height="20" fill="#000"/><rect x="5" y="5" width="1" height="1" fill="rgb(28,28,28)"/><rect x="6" y="5" width="1" height="1" fill="rgb(56,56,56)"/><rect x="7" y="5" width="1" height="1" fill="rgb(56,56,56)"/><rect x="8" y="5" width="1" height="1" fill="rgb(85,85,85)"/><rect x="9" y="5" width="1" height="1" fill="rgb(85,85,85)"/><rect x="10" y="5" width="1" height="1" fill="rgb(141,141,141)"/><rect x="11" y="5" width="1" height="1" fill="rgb(226,226,226)"/><rect x="12" y="5" width="1" height="1" fill="rgb(226,226,226)"/><rect x="13" y="5" width="1" height="1" fill="rgb(255,255,255)"/><rect x="14" y="5" width="1" height="1" fill="rgb(170,170,170)"/><rect x="5" y="6" width="1" height="1" fill="rgb(141,141,141)"/><rect x="6" y="6" width="1" height="1" fill="rgb(255,255,255)"/><rect x="7" y="6" width="1" height="1" fill="rgb(255,255,255)"/><rect x="8" y="6" width="1" height="1" fill="rgb(255,255,255)"/><rect x="9" y="6" width="1" height="1" fill="rgb(255,255,255)"/><rect x="10" y="6" width="1" height="1" fill="rgb(226,226,226)"/><rect x="11" y="6" width="1" height="1" fill="rgb(170,170,170)"/><rect x="12" y="6" width="1" height="1" fill="rgb(198,198,198)"/><rect x="13" y="6" width="1" height="1" fill="rgb(255,255,255)"/><rect x="14" y="6" width="1" height="1" fill="rgb(170,170,170)"/><rect x="5" y="7" width="1" height="1" fill="rgb(28,28,28)"/><rect x="6" y="7" width="1" height="1" fill="rgb(85,85,85)"/><rect x="7" y="7" width="1" height="1" fill="rgb(28,28,28)"/><rect x="12" y="7" width="1" height="1" fill="rgb(141,141,141)"/><rect x="13" y="7" width="1" height="1" fill="rgb(255,255,255)"/><rect x="14" y="7" width="1" height="1" fill="rgb(56,56,56)"/><rect x="11" y="8" width="1" height="1" fill="rgb(56,56,56)"/><rect x="12" y="8" width="1" height="1" fill="rgb(255,255,255)"/><rect x="13" y="8" width="1" height="1" fill="rgb(198,198,198)"/><rect x="11" y="9" width="1" height="1" fill="rgb(170,170,170)"/><rect x="12" y="9" width="1" height="1" fill="rgb(255,255,255)"/><rect x="13" y="9" width="1" height="1" fill="rgb(85,85,85)"/><rect x="10" y="10" width="1" height="1" fill="rgb(56,56,56)"/><rect x="11" y="10" width="1" height="1" fill="rgb(255,255,255)"/><rect x="12" y="10" width="1" height="1" fill="rgb(226,226,226)"/><rect x="10" y="11" width="1" height="1" fill="rgb(113,113,113)"/><rect x="11" y="11" width="1" height="1" fill="rgb(255,255,255)"/><rect x="12" y="11" width="1" height="1" fill="rgb(113,113,113)"/><rect x="10" y="12" width="1" height="1" fill="rgb(255,255,255)"/><rect x="11" y="12" width="1" height="1" fill="rgb(255,255,255)"/><rect x="9" y="13" width="1" height="1" fill="rgb(141,141,141)"/><rect x="10" y="13" width="1" height="1" fill="rgb(255,255,255)"/><rect x="11" y="13" width="1" height="1" fill="rgb(141,141,141)"/><rect x="8" y="14" width="1" height="1" fill="rgb(28,28,28)"/><rect x="9" y="14" width="1" height="1" fill="rgb(255,255,255)"/><rect x="10" y="14" width="1" height="1" fill="rgb(226,226,226)"/><rect x="8" y="15" width="1" height="1" fill="rgb(85,85,85)"/><rect x="9" y="15" width="1" height="1" fill="rgb(255,255,255)"/><rect x="10" y="15" width="1" height="1" fill="rgb(170,170,170)"/><rect x="8" y="16" width="1" height="1" fill="rgb(198,198,198)"/><rect x="9" y="16" width="1" height="1" fill="rgb(255,255,255)"/><rect x="10" y="16" width="1" height="1" fill="rgb(56,56,56)"/><rect x="7" y="17" width="1" height="1" fill="rgb(113,113,113)"/><rect x="8" y="17" width="1" height="1" fill="rgb(255,255,255)"/><rect x="9" y="17" width="1" height="1" fill="rgb(170,170,170)"/><rect x="7" y="18" width="1" height="1" fill="rgb(255,255,255)"/><rect x="8" y="18" width="1" height="1" fill="rgb(255,255,255)"/><rect x="7" y="19" width="1" height="1" fill="rgb(56,56,56)"/><rect x="8" y="19" width="1" height="1" fill="rgb(56,56,56)"/></g></g>
<rect x="471" y="691" width="151" height="151" fill="#000"/>
<g transform="translate(471,691) scale(7.5500)"><g filter="url(#pxblur)" shape-rendering="crispEdges"><rect width="20" height="20" fill="#000"/><rect x="8" y="3" width="1" height="1" fill="rgb(28,28,28)"/><rect x="9" y="3" width="1" height="1" fill="rgb(85,85,85)"/><rect x="10" y="3" width="1" height="1" fill="rgb(113,113,113)"/><rect x="11" y="3" width="1" height="1" fill="rgb(113,113,113)"/><rect x="12" y="3" width="1" height="1" fill="rgb(56,56,56)"/><rect x="13" y="3" width="1" height="1" fill="rgb(56,56,56)"/><rect x="6" y="4" width="1" height="1" fill="rgb(28,28,28)"/><rect x="7" y="4" width="1" height="1" fill="rgb(170,170,170)"/><rect x="8" y="4" width="1" height="1" fill="rgb(226,226,226)"/><rect x="9" y="4" width="1" height="1" fill="rgb(255,255,255)"/><rect x="10" y="4" width="1" height="1" fill="rgb(255,255,255)"/><rect x="11" y="4" width="1" height="1" fill="rgb(255,255,255)"/><rect x="12" y="4" width="1" height="1" fill="rgb(255,255,255)"/><rect x="13" y="4" width="1" height="1" fill="rgb(255,255,255)"/><rect x="14" y="4" width="1" height="1" fill="rgb(198,198,198)"/><rect x="15" y="4" width="1" height="1" fill="rgb(28,28,28)"/><rect x="6" y="5" width="1" height="1" fill="rgb(141,141,141)"/><rect x="7" y="5" width="1" height="1" fill="rgb(255,255,255)"/><rect x="8" y="5" width="1" height="1" fill="rgb(255,255,255)"/><rect x="9" y="5" width="1" height="1" fill="rgb(255,255,255)"/><rect x="10" y="5" width="1" height="1" fill="rgb(255,255,255)"/><rect x="11" y="5" width="1" height="1" fill="rgb(255,255,255)"/><rect x="12" y="5" width="1" height="1" fill="rgb(255,255,255)"/><rect x="13" y="5" width="1" height="1" fill="rgb(255,255,255)"/><rect x="14" y="5" width="1" height="1" fill="rgb(255,255,255)"/><rect x="15" y="5" width="1" height="1" fill="rgb(170,170,170)"/><rect x="6" y="6" width="1" height="1" fill="rgb(113,113,113)"/><rect x="7" y="6" width="1" height="1" fill="rgb(255,255,255)"/><rect x="8" y="6" width="1" height="1" fill="rgb(226,226,226)"/><rect x="9" y="6" width="1" height="1" fill="rgb(85,85,85)"/><rect x="10" y="6" width="1" height="1" fill="rgb(85,85,85)"/><rect x="11" y="6" width="1" height="1" fill="rgb(85,85,85)"/><rect x="12" y="6" width="1" height="1" fill="rgb(85,85,85)"/><rect x="13" y="6" width="1" height="1" fill="rgb(226,226,226)"/><rect x="14" y="6" width="1" height="1" fill="rgb(255,255,255)"/><rect x="15" y="6" width="1" height="1" fill="rgb(141,141,141)"/><rect x="7" y="7" width="1" height="1" fill="rgb(170,170,170)"/><rect x="8" y="7" width="1" height="1" fill="rgb(255,255,255)"/><rect x="9" y="7" width="1" height="1" fill="rgb(113,113,113)"/><rect x="12" y="7" width="1" height="1" fill="rgb(113,113,113)"/><rect x="13" y="7" width="1" height="1" fill="rgb(255,255,255)"/><rect x="14" y="7" width="1" height="1" fill="rgb(226,226,226)"/><rect x="15" y="7" width="1" height="1" fill="rgb(28,28,28)"/><rect x="7" y="8" width="1" height="1" fill="rgb(56,56,56)"/><rect x="8" y="8" width="1" height="1" fill="rgb(255,255,255)"/><rect x="9" y="8" width="1" height="1" fill="rgb(255,255,255)"/><rect x="10" y="8" width="1" height="1" fill="rgb(85,85,85)"/><rect x="11" y="8" width="1" height="1" fill="rgb(170,170,170)"/><rect x="12" y="8" width="1" height="1" fill="rgb(255,255,255)"/><rect x="13" y="8" width="1" height="1" fill="rgb(226,226,226)"/><rect x="14" y="8" width="1" height="1" fill="rgb(28,28,28)"/><rect x="8" y="9" width="1" height="1" fill="rgb(113,113,113)"/><rect x="9" y="9" width="1" height="1" fill="rgb(255,255,255)"/><rect x="10" y="9" width="1" height="1" fill="rgb(255,255,255)"/><rect x="11" y="9" width="1" height="1" fill="rgb(255,255,255)"/><rect x="12" y="9" width="1" height="1" fill="rgb(226,226,226)"/><rect x="13" y="9" width="1" height="1" fill="rgb(56,56,56)"/><rect x="8" y="10" width="1" height="1" fill="rgb(56,56,56)"/><rect x="9" y="10" width="1" height="1" fill="rgb(255,255,255)"/><rect x="10" y="10" width="1" height="1" fill="rgb(255,255,255)"/><rect x="11" y="10" width="1" height="1" fill="rgb(226,226,226)"/><rect x="12" y="10" width="1" height="1" fill="rgb(28,28,28)"/><rect x="7" y="11" width="1" height="1" fill="rgb(56,56,56)"/><rect x="8" y="11" width="1" height="1" fill="rgb(226,226,226)"/><rect x="9" y="11" width="1" height="1" fill="rgb(255,255,255)"/><rect x="10" y="11" width="1" height="1" fill="rgb(255,255,255)"/><rect x="11" y="11" width="1" height="1" fill="rgb(255,255,255)"/><rect x="12" y="11" width="1" height="1" fill="rgb(28,28,28)"/><rect x="6" y="12" width="1" height="1" fill="rgb(28,28,28)"/><rect x="7" y="12" width="1" height="1" fill="rgb(226,226,226)"/><rect x="8" y="12" width="1" height="1" fill="rgb(255,255,255)"/><rect x="9" y="12" width="1" height="1" fill="rgb(141,141,141)"/><rect x="10" y="12" width="1" height="1" fill="rgb(141,141,141)"/><rect x="11" y="12" width="1" height="1" fill="rgb(255,255,255)"/><rect x="12" y="12" width="1" height="1" fill="rgb(141,141,141)"/><rect x="6" y="13" width="1" height="1" fill="rgb(113,113,113)"/><rect x="7" y="13" width="1" height="1" fill="rgb(255,255,255)"/><rect x="8" y="13" width="1" height="1" fill="rgb(198,198,198)"/><rect x="11" y="13" width="1" height="1" fill="rgb(226,226,226)"/><rect x="12" y="13" width="1" height="1" fill="rgb(226,226,226)"/><rect x="5" y="14" width="1" height="1" fill="rgb(28,28,28)"/><rect x="6" y="14" width="1" height="1" fill="rgb(255,255,255)"/><rect x="7" y="14" width="1" height="1" fill="rgb(255,255,255)"/><rect x="8" y="14" width="1" height="1" fill="rgb(28,28,28)"/><rect x="11" y="14" width="1" height="1" fill="rgb(141,141,141)"/><rect x="12" y="14" width="1" height="1" fill="rgb(255,255,255)"/><rect x="13" y="14" width="1" height="1" fill="rgb(141,141,141)"/><rect x="5" y="15" width="1" height="1" fill="rgb(28,28,28)"/><rect x="6" y="15" width="1" height="1" fill="rgb(255,255,255)"/><rect x="7" y="15" width="1" height="1" fill="rgb(255,255,255)"/><rect x="8" y="15" width="1" height="1" fill="rgb(170,170,170)"/><rect x="9" y="15" width="1" height="1" fill="rgb(56,56,56)"/><rect x="10" y="15" width="1" height="1" fill="rgb(28,28,28)"/><rect x="11" y="15" width="1" height="1" fill="rgb(141,141,141)"/><rect x="12" y="15" width="1" height="1" fill="rgb(255,255,255)"/><rect x="13" y="15" width="1" height="1" fill="rgb(198,198,198)"/><rect x="6" y="16" width="1" height="1" fill="rgb(56,56,56)"/><rect x="7" y="16" width="1" height="1" fill="rgb(198,198,198)"/><rect x="8" y="16" width="1" height="1" fill="rgb(255,255,255)"/><rect x="9" y="16" width="1" height="1" fill="rgb(255,255,255)"/><rect x="10" y="16" width="1" height="1" fill="rgb(255,255,255)"/><rect x="11" y="16" width="1" height="1" fill="rgb(255,255,255)"/><rect x="12" y="16" width="1" height="1" fill="rgb(255,255,255)"/><rect x="13" y="16" width="1" height="1" fill="rgb(198,198,198)"/><rect x="8" y="17" width="1" height="1" fill="rgb(56,56,56)"/><rect x="9" y="17" width="1" height="1" fill="rgb(141,141,141)"/><rect x="10" y="17" width="1" height="1" fill="rgb(255,255,255)"/><rect x="11" y="17" width="1" height="1" fill="rgb(255,255,255)"/><rect x="12" y="17" width="1" height="1" fill="rgb(198,198,198)"/><rect x="13" y="17" width="1" height="1" fill="rgb(56,56,56)"/></g></g>
<rect x="633.5" y="691" width="151" height="151" fill="#000"/>
<g transform="translate(633.5,691) scale(7.5500)"><g filter="url(#pxblur)" shape-rendering="crispEdges"><rect width="20" height="20" fill="#000"/><rect x="7" y="5" width="1" height="1" fill="rgb(28,28,28)"/><rect x="8" y="5" width="1" height="1" fill="rgb(170,170,170)"/><rect x="9" y="5" width="1" height="1" fill="rgb(255,255,255)"/><rect x="10" y="5" width="1" height="1" fill="rgb(255,255,255)"/><rect x="11" y="5" width="1" height="1" fill="rgb(226,226,226)"/><rect x="12" y="5" width="1" height="1" fill="rgb(85,85,85)"/><rect x="6" y="6" width="1" height="1" fill="rgb(85,85,85)"/><rect x="7" y="6" width="1" height="1" fill="rgb(255,255,255)"/><rect x="8" y="6" width="1" height="1" fill="rgb(226,226,226)"/><rect x="9" y="6" width="1" height="1" fill="rgb(113,113,113)"/><rect x="10" y="6" width="1" height="1" fill="rgb(113,113,113)"/><rect x="11" y="6" width="1" height="1" fill="rgb(226,226,226)"/><rect x="12" y="6" width="1" height="1" fill="rgb(255,255,255)"/><rect x="13" y="6" width="1" height="1" fill="rgb(28,28,28)"/><rect x="5" y="7" width="1" height="1" fill="rgb(28,28,28)"/><rect x="6" y="7" width="1" height="1" fill="rgb(255,255,255)"/><rect x="7" y="7" width="1" height="1" fill="rgb(226,226,226)"/><rect x="8" y="7" width="1" height="1" fill="rgb(28,28,28)"/><rect x="12" y="7" width="1" height="1" fill="rgb(226,226,226)"/><rect x="13" y="7" width="1" height="1" fill="rgb(85,85,85)"/><rect x="5" y="8" width="1" height="1" fill="rgb(85,85,85)"/><rect x="6" y="8" width="1" height="1" fill="rgb(255,255,255)"/><rect x="7" y="8" width="1" height="1" fill="rgb(28,28,28)"/><rect x="10" y="8" width="1" height="1" fill="rgb(28,28,28)"/><rect x="11" y="8" width="1" height="1" fill="rgb(141,141,141)"/><rect x="12" y="8" width="1" height="1" fill="rgb(255,255,255)"/><rect x="13" y="8" width="1" height="1" fill="rgb(226,226,226)"/><rect x="14" y="8" width="1" height="1" fill="rgb(28,28,28)"/><rect x="5" y="9" width="1" height="1" fill="rgb(85,85,85)"/><rect x="6" y="9" width="1" height="1" fill="rgb(255,255,255)"/><rect x="7" y="9" width="1" height="1" fill="rgb(113,113,113)"/><rect x="8" y="9" width="1" height="1" fill="rgb(28,28,28)"/><rect x="9" y="9" width="1" height="1" fill="rgb(28,28,28)"/><rect x="10" y="9" width="1" height="1" fill="rgb(113,113,113)"/><rect x="11" y="9" width="1" height="1" fill="rgb(255,255,255)"/><rect x="12" y="9" width="1" height="1" fill="rgb(255,255,255)"/><rect x="13" y="9" width="1" height="1" fill="rgb(255,255,255)"/><rect x="14" y="9" width="1" height="1" fill="rgb(56,56,56)"/><rect x="6" y="10" width="1" height="1" fill="rgb(198,198,198)"/><rect x="7" y="10" width="1" height="1" fill="rgb(255,255,255)"/><rect x="8" y="10" width="1" height="1" fill="rgb(255,255,255)"/><rect x="9" y="10" width="1" height="1" fill="rgb(255,255,255)"/><rect x="10" y="10" width="1" height="1" fill="rgb(226,226,226)"/><rect x="11" y="10" width="1" height="1" fill="rgb(198,198,198)"/><rect x="12" y="10" width="1" height="1" fill="rgb(198,198,198)"/><rect x="13" y="10" width="1" height="1" fill="rgb(198,198,198)"/><rect x="7" y="11" width="1" height="1" fill="rgb(56,56,56)"/><rect x="8" y="11" width="1" height="1" fill="rgb(85,85,85)"/><rect x="9" y="11" width="1" height="1" fill="rgb(85,85,85)"/><rect x="10" y="11" width="1" height="1" fill="rgb(28,28,28)"/><rect x="12" y="11" width="1" height="1" fill="rgb(226,226,226)"/><rect x="13" y="11" width="1" height="1" fill="rgb(198,198,198)"/><rect x="11" y="12" width="1" height="1" fill="rgb(85,85,85)"/><rect x="12" y="12" width="1" height="1" fill="rgb(255,255,255)"/><rect x="13" y="12" width="1" height="1" fill="rgb(113,113,113)"/><rect x="11" y="13" width="1" height="1" fill="rgb(170,170,170)"/><rect x="12" y="13" width="1" height="1" fill="rgb(255,255,255)"/><rect x="10" y="14" width="1" height="1" fill="rgb(28,28,28)"/><rect x="11" y="14" width="1" height="1" fill="rgb(255,255,255)"/><rect x="12" y="14" width="1" height="1" fill="rgb(141,141,141)"/><rect x="10" y="15" width="1" height="1" fill="rgb(141,141,141)"/><rect x="11" y="15" width="1" height="1" fill="rgb(255,255,255)"/><rect x="12" y="15" width="1" height="1" fill="rgb(28,28,28)"/><rect x="9" y="16" width="1" height="1" fill="rgb(56,56,56)"/><rect x="10" y="16" width="1" height="1" fill="rgb(255,255,255)"/><rect x="11" y="16" width="1" height="1" fill="rgb(113,113,113)"/><rect x="9" y="17" width="1" height="1" fill="rgb(198,198,198)"/><rect x="10" y="17" width="1" height="1" fill="rgb(255,255,255)"/><rect x="11" y="17" width="1" height="1" fill="rgb(28,28,28)"/><rect x="9" y="18" width="1" height="1" fill="rgb(255,255,255)"/><rect x="10" y="18" width="1" height="1" fill="rgb(170,170,170)"/><rect x="9" y="19" width="1" height="1" fill="rgb(56,56,56)"/><rect x="10" y="19" width="1" height="1" fill="rgb(28,28,28)"/></g></g>
<path d="M922,341 C895,341 871.5,352 871.5,380 L871.5,561 C871.5,585 850,598 818.5,598 C850,598 871.5,611 871.5,635 L871.5,826 C871.5,846 895,856 922,856" fill="none" stroke="#000" stroke-width="3.7"/>
<line x1="1174.5" y1="345.9" x2="1439.0" y2="345.9" stroke="#000" stroke-width="3.7"/>
<line x1="1174.5" y1="345.9" x2="1439.0" y2="523.2" stroke="#000" stroke-width="3.7"/>
<line x1="1174.5" y1="345.9" x2="1439.0" y2="852.2" stroke="#000" stroke-width="3.7"/>
<line x1="1174.5" y1="523.2" x2="1439.0" y2="345.9" stroke="#000" stroke-width="3.7"/>
<line x1="1174.5" y1="523.2" x2="1439.0" y2="523.2" stroke="#000" stroke-width="3.7"/>
<line x1="1174.5" y1="523.2" x2="1439.0" y2="852.2" stroke="#000" stroke-width="3.7"/>
<line x1="1174.5" y1="852.2" x2="1439.0" y2="345.9" stroke="#000" stroke-width="3.7"/>
<line x1="1174.5" y1="852.2" x2="1439.0" y2="523.2" stroke="#000" stroke-width="3.7"/>
<line x1="1174.5" y1="852.2" x2="1439.0" y2="852.2" stroke="#000" stroke-width="3.7"/>
<line x1="1588.0" y1="345.9" x2="1839.0" y2="345.9" stroke="#000" stroke-width="3.7"/>
<line x1="1588.0" y1="345.9" x2="1839.0" y2="523.2" stroke="#000" stroke-width="3.7"/>
<line x1="1588.0" y1="345.9" x2="1839.0" y2="852.2" stroke="#000" stroke-width="3.7"/>
<line x1="1588.0" y1="523.2" x2="1839.0" y2="345.9" stroke="#000" stroke-width="3.7"/>
<line x1="1588.0" y1="523.2" x2="1839.0" y2="523.2" stroke="#000" stroke-width="3.7"/>
<line x1="1588.0" y1="523.2" x2="1839.0" y2="852.2" stroke="#000" stroke-width="3.7"/>
<line x1="1588.0" y1="852.2" x2="1839.0" y2="345.9" stroke="#000" stroke-width="3.7"/>
<line x1="1588.0" y1="852.2" x2="1839.0" y2="523.2" stroke="#000" stroke-width="3.7"/>
<line x1="1588.0" y1="852.2" x2="1839.0" y2="852.2" stroke="#000" stroke-width="3.7"/>
<circle cx="1100" cy="345.9" r="75" fill="#e3e3e3"/>
<circle cx="1100" cy="523.2" r="75" fill="#e3e3e3"/>
<circle cx="1100" cy="852.2" r="75" fill="#e3e3e3"/>
<circle cx="1513.5" cy="345.9" r="75" fill="#e3e3e3"/>
<circle cx="1513.5" cy="523.2" r="75" fill="#e3e3e3"/>
<circle cx="1513.5" cy="852.2" r="75" fill="#e3e3e3"/>
<circle cx="1913.5" cy="345.9" r="75" fill="#e3e3e3"/>
<circle cx="1913.5" cy="523.2" r="75" fill="#e3e3e3"/>
<circle cx="1913.5" cy="852.2" r="75" fill="#e3e3e3"/>
<text x="1100.5" y="153.3" font-family="'Liberation Sans', Arial, sans-serif" font-size="59" text-anchor="middle" fill="#000">Input layer</text>
<text x="1100.5" y="241.2" font-family="'Liberation Sans', Arial, sans-serif" font-size="59" text-anchor="middle" fill="#000">400 neurons</text>
<text x="1515" y="153.3" font-family="'Liberation Sans', Arial, sans-serif" font-size="59" text-anchor="middle" fill="#000">Hidden layer</text>
<text x="1515" y="241.2" font-family="'Liberation Sans', Arial, sans-serif" font-size="59" text-anchor="middle" fill="#000">100 neurons</text>
<text x="1914.5" y="153.3" font-family="'Liberation Sans', Arial, sans-serif" font-size="59" text-anchor="middle" fill="#000">Output layer</text>
<text x="1914.5" y="241.2" font-family="'Liberation Sans', Arial, sans-serif" font-size="59" text-anchor="middle" fill="#000">10 neurons</text>
<text x="1099.5" y="368.9" font-family="'Liberation Serif', 'Times New Roman', serif" font-size="58" font-style="italic" text-anchor="middle" fill="#000">x<tspan font-style="normal" font-size="39" dy="13">1</tspan></text>
<text x="1099.5" y="546.2" font-family="'Liberation Serif', 'Times New Roman', serif" font-size="58" font-style="italic" text-anchor="middle" fill="#000">x<tspan font-style="normal" font-size="39" dy="13">2</tspan></text>
<text x="1099.5" y="875.2" font-family="'Liberation Serif', 'Times New Roman', serif" font-size="58" font-style="italic" text-anchor="middle" fill="#000">x<tspan font-style="normal" font-size="39" dy="13">400</tspan></text>
<text x="1513.0" y="368.9" font-family="'Liberation Serif', 'Times New Roman', serif" font-size="58" font-style="italic" text-anchor="middle" fill="#000">h<tspan font-style="normal" font-size="39" dy="13">1</tspan></text>
<text x="1513.0" y="546.2" font-family="'Liberation Serif', 'Times New Roman', serif" font-size="58" font-style="italic" text-anchor="middle" fill="#000">h<tspan font-style="normal" font-size="39" dy="13">2</tspan></text>
<text x="1513.0" y="875.2" font-family="'Liberation Serif', 'Times New Roman', serif" font-size="58" font-style="italic" text-anchor="middle" fill="#000">h<tspan font-style="normal" font-size="39" dy="13">100</tspan></text>
<text x="1913.0" y="368.9" font-family="'Liberation Serif', 'Times New Roman', serif" font-size="58" font-style="italic" text-anchor="middle" fill="#000">y<tspan font-style="normal" font-size="39" dy="13">1</tspan></text>
<text x="1913.0" y="546.2" font-family="'Liberation Serif', 'Times New Roman', serif" font-size="58" font-style="italic" text-anchor="middle" fill="#000">y<tspan font-style="normal" font-size="39" dy="13">2</tspan></text>
<text x="1913.0" y="875.2" font-family="'Liberation Serif', 'Times New Roman', serif" font-size="58" font-style="italic" text-anchor="middle" fill="#000">y<tspan font-style="normal" font-size="39" dy="13">10</tspan></text>
<circle cx="1105.3" cy="673.5" r="4" fill="#000"/>
<circle cx="1105.3" cy="689.8" r="4" fill="#000"/>
<circle cx="1105.3" cy="706" r="4" fill="#000"/>
<circle cx="1518" cy="673.5" r="4" fill="#000"/>
<circle cx="1518" cy="689.8" r="4" fill="#000"/>
<circle cx="1518" cy="706" r="4" fill="#000"/>
<circle cx="1919" cy="673.5" r="4" fill="#000"/>
<circle cx="1919" cy="689.8" r="4" fill="#000"/>
<circle cx="1919" cy="706" r="4" fill="#000"/>
<line x1="1986" y1="345.9" x2="2166" y2="345.9" stroke="#000" stroke-width="3.7"/>
<path d="M2141,330.9 L2167,345.9 L2141,360.9" fill="none" stroke="#000" stroke-width="3.7"/>
<text x="2241" y="366.9" font-family="'Liberation Sans', Arial, sans-serif" font-size="58" text-anchor="middle" fill="#000">“0”</text>
<line x1="1986" y1="523.2" x2="2166" y2="523.2" stroke="#000" stroke-width="3.7"/>
<path d="M2141,508.20000000000005 L2167,523.2 L2141,538.2" fill="none" stroke="#000" stroke-width="3.7"/>
<text x="2241" y="544.2" font-family="'Liberation Sans', Arial, sans-serif" font-size="58" text-anchor="middle" fill="#000">“1”</text>
<line x1="1986" y1="852.2" x2="2166" y2="852.2" stroke="#000" stroke-width="3.7"/>
<path d="M2141,837.2 L2167,852.2 L2141,867.2" fill="none" stroke="#000" stroke-width="3.7"/>
<text x="2241" y="873.2" font-family="'Liberation Sans', Arial, sans-serif" font-size="58" text-anchor="middle" fill="#000">“9”</text>
<text x="18.5" y="1086.3" font-family="'Liberation Sans', Arial, sans-serif" font-size="113" textLength="140" fill="#000">(b)</text>
<path d="M393.05,1110.85 L2124,1110.85 L2124,1976.85 L393.05,1976.85 Z" fill="none" stroke="#000" stroke-width="5.4"/>
<line x1="393.05" y1="1868.40" x2="406.3" y2="1868.40" stroke="#000" stroke-width="5.5"/>
<line x1="393.05" y1="1759.95" x2="412.9" y2="1759.95" stroke="#000" stroke-width="5.5"/>
<line x1="393.05" y1="1651.50" x2="406.3" y2="1651.50" stroke="#000" stroke-width="5.5"/>
<line x1="393.05" y1="1543.05" x2="412.9" y2="1543.05" stroke="#000" stroke-width="5.5"/>
<line x1="393.05" y1="1434.60" x2="406.3" y2="1434.60" stroke="#000" stroke-width="5.5"/>
<line x1="393.05" y1="1326.15" x2="412.9" y2="1326.15" stroke="#000" stroke-width="5.5"/>
<line x1="393.05" y1="1217.70" x2="406.3" y2="1217.70" stroke="#000" stroke-width="5.5"/>
<text x="364.5" y="2001.25" font-family="'Liberation Sans', Arial, sans-serif" font-size="68" text-anchor="end" fill="#000">0</text>
<text x="364.5" y="1784.35" font-family="'Liberation Sans', Arial, sans-serif" font-size="68" text-anchor="end" fill="#000">20</text>
<text x="364.5" y="1567.45" font-family="'Liberation Sans', Arial, sans-serif" font-size="68" text-anchor="end" fill="#000">40</text>
<text x="364.5" y="1350.55" font-family="'Liberation Sans', Arial, sans-serif" font-size="68" text-anchor="end" fill="#000">60</text>
<text x="364.5" y="1133.65" font-family="'Liberation Sans', Arial, sans-serif" font-size="68" text-anchor="end" fill="#000">80</text>
<line x1="641.64" y1="1976.85" x2="641.64" y2="1963.6" stroke="#000" stroke-width="5.2"/>
<text x="641.94" y="2027.3" font-family="'Liberation Sans', Arial, sans-serif" font-size="46" text-anchor="middle" fill="#000">2</text>
<line x1="787.06" y1="1976.85" x2="787.06" y2="1963.6" stroke="#000" stroke-width="5.2"/>
<text x="787.36" y="2027.3" font-family="'Liberation Sans', Arial, sans-serif" font-size="46" text-anchor="middle" fill="#000">3</text>
<line x1="890.23" y1="1976.85" x2="890.23" y2="1963.6" stroke="#000" stroke-width="5.2"/>
<text x="890.53" y="2027.3" font-family="'Liberation Sans', Arial, sans-serif" font-size="46" text-anchor="middle" fill="#000">4</text>
<line x1="970.26" y1="1976.85" x2="970.26" y2="1963.6" stroke="#000" stroke-width="5.2"/>
<text x="970.56" y="2027.3" font-family="'Liberation Sans', Arial, sans-serif" font-size="46" text-anchor="middle" fill="#000">5</text>
<line x1="1035.65" y1="1976.85" x2="1035.65" y2="1963.6" stroke="#000" stroke-width="5.2"/>
<text x="1035.95" y="2027.3" font-family="'Liberation Sans', Arial, sans-serif" font-size="46" text-anchor="middle" fill="#000">6</text>
<line x1="1090.93" y1="1976.85" x2="1090.93" y2="1963.6" stroke="#000" stroke-width="5.2"/>
<text x="1091.23" y="2027.3" font-family="'Liberation Sans', Arial, sans-serif" font-size="46" text-anchor="middle" fill="#000">7</text>
<line x1="1138.82" y1="1976.85" x2="1138.82" y2="1963.6" stroke="#000" stroke-width="5.2"/>
<text x="1139.12" y="2027.3" font-family="'Liberation Sans', Arial, sans-serif" font-size="46" text-anchor="middle" fill="#000">8</text>
<line x1="1181.06" y1="1976.85" x2="1181.06" y2="1963.6" stroke="#000" stroke-width="5.2"/>
<text x="1181.36" y="2027.3" font-family="'Liberation Sans', Arial, sans-serif" font-size="46" text-anchor="middle" fill="#000">9</text>
<line x1="1467.44" y1="1976.85" x2="1467.44" y2="1963.6" stroke="#000" stroke-width="5.2"/>
<text x="1467.74" y="2027.3" font-family="'Liberation Sans', Arial, sans-serif" font-size="46" text-anchor="middle" fill="#000">2</text>
<line x1="1612.86" y1="1976.85" x2="1612.86" y2="1963.6" stroke="#000" stroke-width="5.2"/>
<text x="1613.16" y="2027.3" font-family="'Liberation Sans', Arial, sans-serif" font-size="46" text-anchor="middle" fill="#000">3</text>
<line x1="1716.03" y1="1976.85" x2="1716.03" y2="1963.6" stroke="#000" stroke-width="5.2"/>
<text x="1716.33" y="2027.3" font-family="'Liberation Sans', Arial, sans-serif" font-size="46" text-anchor="middle" fill="#000">4</text>
<line x1="1796.06" y1="1976.85" x2="1796.06" y2="1963.6" stroke="#000" stroke-width="5.2"/>
<text x="1796.36" y="2027.3" font-family="'Liberation Sans', Arial, sans-serif" font-size="46" text-anchor="middle" fill="#000">5</text>
<line x1="1861.45" y1="1976.85" x2="1861.45" y2="1963.6" stroke="#000" stroke-width="5.2"/>
<text x="1861.75" y="2027.3" font-family="'Liberation Sans', Arial, sans-serif" font-size="46" text-anchor="middle" fill="#000">6</text>
<line x1="1916.73" y1="1976.85" x2="1916.73" y2="1963.6" stroke="#000" stroke-width="5.2"/>
<text x="1917.03" y="2027.3" font-family="'Liberation Sans', Arial, sans-serif" font-size="46" text-anchor="middle" fill="#000">7</text>
<line x1="1964.62" y1="1976.85" x2="1964.62" y2="1963.6" stroke="#000" stroke-width="5.2"/>
<text x="1964.92" y="2027.3" font-family="'Liberation Sans', Arial, sans-serif" font-size="46" text-anchor="middle" fill="#000">8</text>
<line x1="2006.86" y1="1976.85" x2="2006.86" y2="1963.6" stroke="#000" stroke-width="5.2"/>
<text x="2007.16" y="2027.3" font-family="'Liberation Sans', Arial, sans-serif" font-size="46" text-anchor="middle" fill="#000">9</text>
<line x1="1218.85" y1="1976.85" x2="1218.85" y2="1957.1" stroke="#000" stroke-width="5.2"/>
<line x1="2044.65" y1="1976.85" x2="2044.65" y2="1957.1" stroke="#000" stroke-width="5.2"/>
<text x="393.05" y="2088.5" font-family="'Liberation Sans', Arial, sans-serif" font-size="66" text-anchor="middle" fill="#000">1</text>
<text x="1218.85" y="2088.5" font-family="'Liberation Sans', Arial, sans-serif" font-size="66" text-anchor="middle" fill="#000">10</text>
<text x="2044.65" y="2088.5" font-family="'Liberation Sans', Arial, sans-serif" font-size="66" text-anchor="middle" fill="#000">100</text>
<text x="1260" y="2174.4" font-family="'Liberation Sans', Arial, sans-serif" font-size="72" text-anchor="middle" fill="#000">Number of Epochs</text>
<text transform="translate(241.5,1543) rotate(-90)" x="0" y="0" font-family="'Liberation Sans', Arial, sans-serif" font-size="72" text-anchor="middle" fill="#000">Accuracy (%)</text>
<g>
<polyline points="393.1,1869.5 641.6,1869.5 787.1,1869.5 890.2,1869.5 970.3,1869.5 1035.6,1869.5 1090.9,1869.5 1138.8,1869.5 1181.1,1869.5 1218.8,1869.5 1253.0,1869.5 1284.2,1869.5 1312.9,1869.5 1339.5,1869.5 1364.3,1869.5 1387.4,1869.5 1409.2,1869.5 1429.7,1869.5 1449.0,1869.5 1467.4,1869.5 1484.9,1869.5 1501.6,1869.5 1517.6,1869.5 1532.8,1869.5 1547.5,1869.5 1561.5,1869.5 1575.1,1869.5 1588.1,1869.5 1600.7,1869.5 1612.9,1869.5 1624.6,1869.5 1636.0,1869.5 1647.0,1869.5 1657.7,1869.5 1668.1,1869.5 1678.2,1869.5 1688.1,1869.5 1697.6,1869.5 1707.0,1869.5 1716.0,1869.5 1724.9,1869.5 1733.5,1869.5 1742.0,1869.5 1750.2,1869.5 1758.3,1869.5 1766.2,1869.5 1773.9,1869.5 1781.4,1869.5 1788.8,1869.5 1796.1,1869.5 1803.2,1869.5 1810.1,1869.5 1817.0,1869.5 1823.7,1869.5 1830.2,1869.5 1836.7,1869.5 1843.1,1869.5 1849.3,1869.5 1855.4,1869.5 1861.4,1869.5 1867.4,1869.5 1873.2,1869.5 1878.9,1869.5 1884.6,1869.5 1890.2,1869.5 1895.6,1869.5 1901.0,1869.5 1906.3,1869.5 1911.6,1869.5 1916.7,1869.5 1921.8,1869.5 1926.8,1869.5 1931.8,1869.5 1936.7,1869.5 1941.5,1869.5 1946.2,1869.5 1950.9,1869.5 1955.5,1869.5 1960.1,1869.5 1964.6,1869.5 1969.1,1869.5 1973.5,1869.5 1977.8,1869.5 1982.1,1869.5 1986.4,1869.5 1990.6,1869.5 1994.7,1869.5 1998.8,1869.5 2002.9,1869.5 2006.9,1869.5 2010.8,1869.5 2014.7,1869.5 2018.6,1869.5 2022.5,1869.5 2026.3,1869.5 2030.0,1869.5 2033.7,1869.5 2037.4,1869.5 2041.0,1869.5 2044.6,1869.5 2048.2,1869.5 2051.8,1869.5 2055.3,1869.5 2058.7,1869.5 2062.1,1869.5 2065.5,1869.5 2068.9,1869.5 2072.3,1869.5 2075.6,1869.5 2078.8,1869.5 2082.1,1869.5 2085.3,1869.5 2088.5,1869.5 2091.6,1869.5 2094.8,1869.5 2097.9,1869.5 2101.0,1869.5 2104.0,1869.5 2107.0,1869.5 2110.0,1869.5 2113.0,1869.5 2116.0,1869.5 2118.9,1869.5 2121.8,1869.5 2124.7,1869.5" fill="none" stroke="#7f7f7f" stroke-width="2.8" stroke-dasharray="10.4,10.9"/>
<circle cx="393.1" cy="1869.5" r="15.60" fill="#fff" stroke="#7d7d7d" stroke-width="2.10"/>
<circle cx="641.6" cy="1869.5" r="15.60" fill="#fff" stroke="#7d7d7d" stroke-width="2.10"/>
<circle cx="787.1" cy="1869.5" r="15.60" fill="#fff" stroke="#7d7d7d" stroke-width="2.10"/>
<circle cx="890.2" cy="1869.5" r="15.60" fill="#fff" stroke="#7d7d7d" stroke-width="2.10"/>
<circle cx="970.3" cy="1869.5" r="15.60" fill="#fff" stroke="#7d7d7d" stroke-width="2.10"/>
<circle cx="1035.6" cy="1869.5" r="15.60" fill="#fff" stroke="#7d7d7d" stroke-width="2.10"/>
<circle cx="1090.9" cy="1869.5" r="15.60" fill="#fff" stroke="#7d7d7d" stroke-width="2.10"/>
<circle cx="1138.8" cy="1869.5" r="15.60" fill="#fff" stroke="#7d7d7d" stroke-width="2.10"/>
<circle cx="1181.1" cy="1869.5" r="15.60" fill="#fff" stroke="#7d7d7d" stroke-width="2.10"/>
<circle cx="1218.8" cy="1869.5" r="15.60" fill="#fff" stroke="#7d7d7d" stroke-width="2.10"/>
<circle cx="1253.0" cy="1869.5" r="15.60" fill="#fff" stroke="#7d7d7d" stroke-width="2.10"/>
<circle cx="1284.2" cy="1869.5" r="15.60" fill="#fff" stroke="#7d7d7d" stroke-width="2.10"/>
<circle cx="1312.9" cy="1869.5" r="15.60" fill="#fff" stroke="#7d7d7d" stroke-width="2.10"/>
<circle cx="1339.5" cy="1869.5" r="15.60" fill="#fff" stroke="#7d7d7d" stroke-width="2.10"/>
<circle cx="1364.3" cy="1869.5" r="15.60" fill="#fff" stroke="#7d7d7d" stroke-width="2.10"/>
<circle cx="1387.4" cy="1869.5" r="15.60" fill="#fff" stroke="#7d7d7d" stroke-width="2.10"/>
<circle cx="1409.2" cy="1869.5" r="15.60" fill="#fff" stroke="#7d7d7d" stroke-width="2.10"/>
<circle cx="1429.7" cy="1869.5" r="15.60" fill="#fff" stroke="#7d7d7d" stroke-width="2.10"/>
<circle cx="1449.0" cy="1869.5" r="15.60" fill="#fff" stroke="#7d7d7d" stroke-width="2.10"/>
<circle cx="1467.4" cy="1869.5" r="15.60" fill="#fff" stroke="#7d7d7d" stroke-width="2.10"/>
<circle cx="1484.9" cy="1869.5" r="15.60" fill="#fff" stroke="#7d7d7d" stroke-width="2.10"/>
<circle cx="1501.6" cy="1869.5" r="15.60" fill="#fff" stroke="#7d7d7d" stroke-width="2.10"/>
<circle cx="1517.6" cy="1869.5" r="15.60" fill="#fff" stroke="#7d7d7d" stroke-width="2.10"/>
<circle cx="1532.8" cy="1869.5" r="15.60" fill="#fff" stroke="#7d7d7d" stroke-width="2.10"/>
<circle cx="1547.5" cy="1869.5" r="15.60" fill="#fff" stroke="#7d7d7d" stroke-width="2.10"/>
<circle cx="1561.5" cy="1869.5" r="15.60" fill="#fff" stroke="#7d7d7d" stroke-width="2.10"/>
<circle cx="1575.1" cy="1869.5" r="15.60" fill="#fff" stroke="#7d7d7d" stroke-width="2.10"/>
<circle cx="1588.1" cy="1869.5" r="15.60" fill="#fff" stroke="#7d7d7d" stroke-width="2.10"/>
<circle cx="1600.7" cy="1869.5" r="15.60" fill="#fff" stroke="#7d7d7d" stroke-width="2.10"/>
<circle cx="1612.9" cy="1869.5" r="15.60" fill="#fff" stroke="#7d7d7d" stroke-width="2.10"/>
<circle cx="1624.6" cy="1869.5" r="15.60" fill="#fff" stroke="#7d7d7d" stroke-width="2.10"/>
<circle cx="1636.0" cy="1869.5" r="15.60" fill="#fff" stroke="#7d7d7d" stroke-width="2.10"/>
<circle cx="1647.0" cy="1869.5" r="15.60" fill="#fff" stroke="#7d7d7d" stroke-width="2.10"/>
<circle cx="1657.7" cy="1869.5" r="15.60" fill="#fff" stroke="#7d7d7d" stroke-width="2.10"/>
<circle cx="1668.1" cy="1869.5" r="15.60" fill="#fff" stroke="#7d7d7d" stroke-width="2.10"/>
<circle cx="1678.2" cy="1869.5" r="15.60" fill="#fff" stroke="#7d7d7d" stroke-width="2.10"/>
<circle cx="1688.1" cy="1869.5" r="15.60" fill="#fff" stroke="#7d7d7d" stroke-width="2.10"/>
<circle cx="1697.6" cy="1869.5" r="15.60" fill="#fff" stroke="#7d7d7d" stroke-width="2.10"/>
<circle cx="1707.0" cy="1869.5" r="15.60" fill="#fff" stroke="#7d7d7d" stroke-width="2.10"/>
<circle cx="1716.0" cy="1869.5" r="15.60" fill="#fff" stroke="#7d7d7d" stroke-width="2.10"/>
<circle cx="1724.9" cy="1869.5" r="15.59" fill="#fff" stroke="#7d7d7d" stroke-width="2.12"/>
<circle cx="1733.5" cy="1869.5" r="15.58" fill="#fff" stroke="#7d7d7d" stroke-width="2.13"/>
<circle cx="1742.0" cy="1869.5" r="15.58" fill="#fff" stroke="#7d7d7d" stroke-width="2.15"/>
<circle cx="1750.2" cy="1869.5" r="15.57" fill="#fff" stroke="#7d7d7d" stroke-width="2.16"/>
<circle cx="1758.3" cy="1869.5" r="15.56" fill="#fff" stroke="#7d7d7d" stroke-width="2.18"/>
<circle cx="1766.2" cy="1869.5" r="15.55" fill="#fff" stroke="#7d7d7d" stroke-width="2.19"/>
<circle cx="1773.9" cy="1869.5" r="15.55" fill="#fff" stroke="#7d7d7d" stroke-width="2.21"/>
<circle cx="1781.4" cy="1869.5" r="15.54" fill="#fff" stroke="#7d7d7d" stroke-width="2.22"/>
<circle cx="1788.8" cy="1869.5" r="15.53" fill="#fff" stroke="#7d7d7d" stroke-width="2.24"/>
<circle cx="1796.1" cy="1869.5" r="15.53" fill="#fff" stroke="#7d7d7d" stroke-width="2.25"/>
<circle cx="1803.2" cy="1869.5" r="15.52" fill="#fff" stroke="#7d7d7d" stroke-width="2.27"/>
<circle cx="1810.1" cy="1869.5" r="15.51" fill="#fff" stroke="#7d7d7d" stroke-width="2.28"/>
<circle cx="1817.0" cy="1869.5" r="15.50" fill="#fff" stroke="#7d7d7d" stroke-width="2.29"/>
<circle cx="1823.7" cy="1869.5" r="15.49" fill="#fff" stroke="#7d7d7d" stroke-width="2.31"/>
<circle cx="1830.2" cy="1869.5" r="15.49" fill="#fff" stroke="#7d7d7d" stroke-width="2.33"/>
<circle cx="1836.7" cy="1869.5" r="15.48" fill="#fff" stroke="#7d7d7d" stroke-width="2.34"/>
<circle cx="1843.1" cy="1869.5" r="15.47" fill="#fff" stroke="#7d7d7d" stroke-width="2.35"/>
<circle cx="1849.3" cy="1869.5" r="15.46" fill="#fff" stroke="#7d7d7d" stroke-width="2.37"/>
<circle cx="1855.4" cy="1869.5" r="15.46" fill="#fff" stroke="#7d7d7d" stroke-width="2.39"/>
<circle cx="1861.4" cy="1869.5" r="15.45" fill="#fff" stroke="#7d7d7d" stroke-width="2.40"/>
<circle cx="1867.4" cy="1869.5" r="15.44" fill="#fff" stroke="#7d7d7d" stroke-width="2.42"/>
<circle cx="1873.2" cy="1869.5" r="15.43" fill="#fff" stroke="#7d7d7d" stroke-width="2.43"/>
<circle cx="1878.9" cy="1869.5" r="15.43" fill="#fff" stroke="#7d7d7d" stroke-width="2.45"/>
<circle cx="1884.6" cy="1869.5" r="15.42" fill="#fff" stroke="#7d7d7d" stroke-width="2.46"/>
<circle cx="1890.2" cy="1869.5" r="15.41" fill="#fff" stroke="#7d7d7d" stroke-width="2.48"/>
<circle cx="1895.6" cy="1869.5" r="15.40" fill="#fff" stroke="#7d7d7d" stroke-width="2.49"/>
<circle cx="1901.0" cy="1869.5" r="15.40" fill="#fff" stroke="#7d7d7d" stroke-width="2.50"/>
<circle cx="1906.3" cy="1869.5" r="15.39" fill="#fff" stroke="#7d7d7d" stroke-width="2.52"/>
<circle cx="1911.6" cy="1869.5" r="15.38" fill="#fff" stroke="#7d7d7d" stroke-width="2.54"/>
<circle cx="1916.7" cy="1869.5" r="15.38" fill="#fff" stroke="#7d7d7d" stroke-width="2.55"/>
<circle cx="1921.8" cy="1869.5" r="15.37" fill="#fff" stroke="#7d7d7d" stroke-width="2.57"/>
<circle cx="1926.8" cy="1869.5" r="15.36" fill="#fff" stroke="#7d7d7d" stroke-width="2.58"/>
<circle cx="1931.8" cy="1869.5" r="15.35" fill="#fff" stroke="#7d7d7d" stroke-width="2.60"/>
<circle cx="1936.7" cy="1869.5" r="15.34" fill="#fff" stroke="#7d7d7d" stroke-width="2.61"/>
<circle cx="1941.5" cy="1869.5" r="15.34" fill="#fff" stroke="#7d7d7d" stroke-width="2.62"/>
<circle cx="1946.2" cy="1869.5" r="15.33" fill="#fff" stroke="#7d7d7d" stroke-width="2.64"/>
<circle cx="1950.9" cy="1869.5" r="15.32" fill="#fff" stroke="#7d7d7d" stroke-width="2.66"/>
<circle cx="1955.5" cy="1869.5" r="15.31" fill="#fff" stroke="#7d7d7d" stroke-width="2.67"/>
<circle cx="1960.1" cy="1869.5" r="15.31" fill="#fff" stroke="#7d7d7d" stroke-width="2.69"/>
<circle cx="1964.6" cy="1869.5" r="15.30" fill="#fff" stroke="#7d7d7d" stroke-width="2.70"/>
<circle cx="1969.1" cy="1869.5" r="15.29" fill="#fff" stroke="#7d7d7d" stroke-width="2.71"/>
<circle cx="1973.5" cy="1869.5" r="15.29" fill="#fff" stroke="#7d7d7d" stroke-width="2.73"/>
<circle cx="1977.8" cy="1869.5" r="15.28" fill="#fff" stroke="#7d7d7d" stroke-width="2.75"/>
<circle cx="1982.1" cy="1869.5" r="15.27" fill="#fff" stroke="#7d7d7d" stroke-width="2.76"/>
<circle cx="1986.4" cy="1869.5" r="15.26" fill="#fff" stroke="#7d7d7d" stroke-width="2.78"/>
<circle cx="1990.6" cy="1869.5" r="15.25" fill="#fff" stroke="#7d7d7d" stroke-width="2.79"/>
<circle cx="1994.7" cy="1869.5" r="15.25" fill="#fff" stroke="#7d7d7d" stroke-width="2.81"/>
<circle cx="1998.8" cy="1869.5" r="15.24" fill="#fff" stroke="#7d7d7d" stroke-width="2.82"/>
<circle cx="2002.9" cy="1869.5" r="15.23" fill="#fff" stroke="#7d7d7d" stroke-width="2.83"/>
<circle cx="2006.9" cy="1869.5" r="15.22" fill="#fff" stroke="#7d7d7d" stroke-width="2.85"/>
<circle cx="2010.8" cy="1869.5" r="15.22" fill="#fff" stroke="#7d7d7d" stroke-width="2.87"/>
<circle cx="2014.7" cy="1869.5" r="15.21" fill="#fff" stroke="#7d7d7d" stroke-width="2.88"/>
<circle cx="2018.6" cy="1869.5" r="15.20" fill="#fff" stroke="#7d7d7d" stroke-width="2.90"/>
<circle cx="2022.5" cy="1869.5" r="15.20" fill="#fff" stroke="#7d7d7d" stroke-width="2.91"/>
<circle cx="2026.3" cy="1869.5" r="15.19" fill="#fff" stroke="#7d7d7d" stroke-width="2.92"/>
<circle cx="2030.0" cy="1869.5" r="15.18" fill="#fff" stroke="#7d7d7d" stroke-width="2.94"/>
<circle cx="2033.7" cy="1869.5" r="15.17" fill="#fff" stroke="#7d7d7d" stroke-width="2.96"/>
<circle cx="2037.4" cy="1869.5" r="15.16" fill="#fff" stroke="#7d7d7d" stroke-width="2.97"/>
<circle cx="2041.0" cy="1869.5" r="15.16" fill="#fff" stroke="#7d7d7d" stroke-width="2.99"/>
<circle cx="2044.6" cy="1869.5" r="15.15" fill="#fff" stroke="#7d7d7d" stroke-width="3.00"/>
<circle cx="2048.2" cy="1869.5" r="15.15" fill="#fff" stroke="#7d7d7d" stroke-width="3.00"/>
<circle cx="2051.8" cy="1869.5" r="15.15" fill="#fff" stroke="#7d7d7d" stroke-width="3.00"/>
<circle cx="2055.3" cy="1869.5" r="15.15" fill="#fff" stroke="#7d7d7d" stroke-width="3.00"/>
<circle cx="2058.7" cy="1869.5" r="15.15" fill="#fff" stroke="#7d7d7d" stroke-width="3.00"/>
<circle cx="2062.1" cy="1869.5" r="15.15" fill="#fff" stroke="#7d7d7d" stroke-width="3.00"/>
<circle cx="2065.5" cy="1869.5" r="15.15" fill="#fff" stroke="#7d7d7d" stroke-width="3.00"/>
<circle cx="2068.9" cy="1869.5" r="15.15" fill="#fff" stroke="#7d7d7d" stroke-width="3.00"/>
<circle cx="2072.3" cy="1869.5" r="15.15" fill="#fff" stroke="#7d7d7d" stroke-width="3.00"/>
<circle cx="2075.6" cy="1869.5" r="15.15" fill="#fff" stroke="#7d7d7d" stroke-width="3.00"/>
<circle cx="2078.8" cy="1869.5" r="15.15" fill="#fff" stroke="#7d7d7d" stroke-width="3.00"/>
<circle cx="2082.1" cy="1869.5" r="15.15" fill="#fff" stroke="#7d7d7d" stroke-width="3.00"/>
<circle cx="2085.3" cy="1869.5" r="15.15" fill="#fff" stroke="#7d7d7d" stroke-width="3.00"/>
<circle cx="2088.5" cy="1869.5" r="15.15" fill="#fff" stroke="#7d7d7d" stroke-width="3.00"/>
<circle cx="2091.6" cy="1869.5" r="15.15" fill="#fff" stroke="#7d7d7d" stroke-width="3.00"/>
<circle cx="2094.8" cy="1869.5" r="15.15" fill="#fff" stroke="#7d7d7d" stroke-width="3.00"/>
<circle cx="2097.9" cy="1869.5" r="15.15" fill="#fff" stroke="#7d7d7d" stroke-width="3.00"/>
<circle cx="2101.0" cy="1869.5" r="15.15" fill="#fff" stroke="#7d7d7d" stroke-width="3.00"/>
<circle cx="2104.0" cy="1869.5" r="15.15" fill="#fff" stroke="#7d7d7d" stroke-width="3.00"/>
<circle cx="2107.0" cy="1869.5" r="15.15" fill="#fff" stroke="#7d7d7d" stroke-width="3.00"/>
<circle cx="2110.0" cy="1869.5" r="15.15" fill="#fff" stroke="#7d7d7d" stroke-width="3.00"/>
<circle cx="2113.0" cy="1869.5" r="15.15" fill="#fff" stroke="#7d7d7d" stroke-width="3.00"/>
<circle cx="2116.0" cy="1869.5" r="15.15" fill="#fff" stroke="#7d7d7d" stroke-width="3.00"/>
<circle cx="2118.9" cy="1869.5" r="15.15" fill="#fff" stroke="#7d7d7d" stroke-width="3.00"/>
<circle cx="2121.8" cy="1869.5" r="15.15" fill="#fff" stroke="#7d7d7d" stroke-width="3.00"/>
<circle cx="2124.7" cy="1869.5" r="15.15" fill="#fff" stroke="#7d7d7d" stroke-width="3.00"/>
<polyline points="393.1,1854.3 641.6,1854.3 787.1,1870.6 890.2,1856.5 970.3,1868.4 1035.6,1769.7 1090.9,1868.4 1138.8,1866.2 1181.1,1872.7 1218.8,1778.4 1253.0,1694.9 1284.2,1789.2 1312.9,1871.1 1339.5,1853.2 1364.3,1873.8 1387.4,1864.1 1409.2,1864.1 1429.7,1873.8 1449.0,1871.1 1467.4,1864.1 1484.9,1871.1 1501.6,1853.2 1517.6,1867.3 1532.8,1871.1 1547.5,1853.2 1561.5,1866.2 1575.1,1866.2 1588.1,1873.8 1600.7,1853.2 1612.9,1853.2 1624.6,1683.0 1636.0,1752.4 1647.0,1871.1 1657.7,1784.9 1668.1,1853.2 1678.2,1705.7 1688.1,1777.3 1697.6,1750.2 1707.0,1750.2 1716.7,1540.9 1726.0,1861.9 1734.5,1836.9 1743.0,1855.4 1750.0,1859.7 1759.5,1782.7 1766.7,1809.8 1773.8,1703.6 1782.0,1864.1 1789.3,1706.8 1795.0,1805.5 1803.6,1818.5 1809.5,1781.6 1816.7,1867.3 1823.8,1768.6 1831.0,1807.7 1834.5,1871.7 1844.0,1694.9 1848.8,1603.8 1856.0,1869.5 1860.7,1654.8 1867.9,1757.8 1873.8,1614.6 1881.0,1648.2 1885.7,1861.9 1890.5,1591.9 1901.0,1694.9 1907.0,1838.0 1910.7,1645.0 1915.5,1731.8 1922.6,1653.7 1928.6,1540.9 1931.0,1552.8 1938.0,1730.7 1942.9,1557.1 1946.4,1572.3 1954.8,1847.8 1962.0,1844.5 1966.7,1738.3 1970.0,1702.5 1975.0,1562.6 1979.8,1457.4 1983.0,1508.3 1990.5,1531.1 1995.0,1579.9 2004.8,1610.3 2011.9,1635.2 2016.7,1645.0 2019.0,1829.4 2026.2,1666.7 2029.8,1514.9 2033.0,1543.0 2038.0,1582.1 2041.7,1863.0 2046.4,1450.9 2050.0,1492.1 2051.2,1536.5 2059.5,1661.3 2059.5,1600.5 2067.9,1579.9 2073.8,1526.8 2079.8,1619.0 2083.3,1715.5 2085.7,1681.9 2088.0,1751.3 2092.9,1482.3 2097.6,1558.2 2100.0,1500.8 2102.4,1746.9 2104.8,1604.9 2107.0,1652.6 2110.7,1794.7 2114.3,1484.5 2119.0,1540.9 2120.0,1574.5" fill="none" stroke="#fa7474" stroke-width="2.6" stroke-dasharray="10.4,10.9"/>
<circle cx="393.1" cy="1854.3" r="15.6" fill="#fff" stroke="#fa7474" stroke-width="2.1"/>
<circle cx="641.6" cy="1854.3" r="15.6" fill="#fff" stroke="#fa7474" stroke-width="2.1"/>
<circle cx="787.1" cy="1870.6" r="15.6" fill="#fff" stroke="#fa7474" stroke-width="2.1"/>
<circle cx="890.2" cy="1856.5" r="15.6" fill="#fff" stroke="#fa7474" stroke-width="2.1"/>
<circle cx="970.3" cy="1868.4" r="15.6" fill="#fff" stroke="#fa7474" stroke-width="2.1"/>
<circle cx="1035.6" cy="1769.7" r="15.6" fill="#fff" stroke="#fa7474" stroke-width="2.1"/>
<circle cx="1090.9" cy="1868.4" r="15.6" fill="#fff" stroke="#fa7474" stroke-width="2.1"/>
<circle cx="1138.8" cy="1866.2" r="15.6" fill="#fff" stroke="#fa7474" stroke-width="2.1"/>
<circle cx="1181.1" cy="1872.7" r="15.6" fill="#fff" stroke="#fa7474" stroke-width="2.1"/>
<circle cx="1218.8" cy="1778.4" r="15.6" fill="#fff" stroke="#fa7474" stroke-width="2.1"/>
<circle cx="1253.0" cy="1694.9" r="15.6" fill="#fff" stroke="#fa7474" stroke-width="2.1"/>
<circle cx="1284.2" cy="1789.2" r="15.6" fill="#fff" stroke="#fa7474" stroke-width="2.1"/>
<circle cx="1312.9" cy="1871.1" r="15.6" fill="#fff" stroke="#fa7474" stroke-width="2.1"/>
<circle cx="1339.5" cy="1853.2" r="15.6" fill="#fff" stroke="#fa7474" stroke-width="2.1"/>
<circle cx="1364.3" cy="1873.8" r="15.6" fill="#fff" stroke="#fa7474" stroke-width="2.1"/>
<circle cx="1387.4" cy="1864.1" r="15.6" fill="#fff" stroke="#fa7474" stroke-width="2.1"/>
<circle cx="1409.2" cy="1864.1" r="15.6" fill="#fff" stroke="#fa7474" stroke-width="2.1"/>
<circle cx="1429.7" cy="1873.8" r="15.6" fill="#fff" stroke="#fa7474" stroke-width="2.1"/>
<circle cx="1449.0" cy="1871.1" r="15.6" fill="#fff" stroke="#fa7474" stroke-width="2.1"/>
<circle cx="1467.4" cy="1864.1" r="15.6" fill="#fff" stroke="#fa7474" stroke-width="2.1"/>
<circle cx="1484.9" cy="1871.1" r="15.6" fill="#fff" stroke="#fa7474" stroke-width="2.1"/>
<circle cx="1501.6" cy="1853.2" r="15.6" fill="#fff" stroke="#fa7474" stroke-width="2.1"/>
<circle cx="1517.6" cy="1867.3" r="15.6" fill="#fff" stroke="#fa7474" stroke-width="2.1"/>
<circle cx="1532.8" cy="1871.1" r="15.6" fill="#fff" stroke="#fa7474" stroke-width="2.1"/>
<circle cx="1547.5" cy="1853.2" r="15.6" fill="#fff" stroke="#fa7474" stroke-width="2.1"/>
<circle cx="1561.5" cy="1866.2" r="15.6" fill="#fff" stroke="#fa7474" stroke-width="2.1"/>
<circle cx="1575.1" cy="1866.2" r="15.6" fill="#fff" stroke="#fa7474" stroke-width="2.1"/>
<circle cx="1588.1" cy="1873.8" r="15.6" fill="#fff" stroke="#fa7474" stroke-width="2.1"/>
<circle cx="1600.7" cy="1853.2" r="15.6" fill="#fff" stroke="#fa7474" stroke-width="2.1"/>
<circle cx="1612.9" cy="1853.2" r="15.6" fill="#fff" stroke="#fa7474" stroke-width="2.1"/>
<circle cx="1624.6" cy="1683.0" r="15.6" fill="#fff" stroke="#fa7474" stroke-width="2.1"/>
<circle cx="1636.0" cy="1752.4" r="15.6" fill="#fff" stroke="#fa7474" stroke-width="2.1"/>
<circle cx="1647.0" cy="1871.1" r="15.6" fill="#fff" stroke="#fa7474" stroke-width="2.1"/>
<circle cx="1657.7" cy="1784.9" r="15.6" fill="#fff" stroke="#fa7474" stroke-width="2.1"/>
<circle cx="1668.1" cy="1853.2" r="15.6" fill="#fff" stroke="#fa7474" stroke-width="2.1"/>
<circle cx="1678.2" cy="1705.7" r="15.6" fill="#fff" stroke="#fa7474" stroke-width="2.1"/>
<circle cx="1688.1" cy="1777.3" r="15.6" fill="#fff" stroke="#fa7474" stroke-width="2.1"/>
<circle cx="1697.6" cy="1750.2" r="15.6" fill="#fff" stroke="#fa7474" stroke-width="2.1"/>
<circle cx="1707.0" cy="1750.2" r="15.6" fill="#fff" stroke="#fa7474" stroke-width="2.1"/>
<circle cx="1716.7" cy="1540.9" r="15.6" fill="#fff" stroke="#fa7474" stroke-width="2.1"/>
<circle cx="1726.0" cy="1861.9" r="15.6" fill="#fff" stroke="#fa7474" stroke-width="2.1"/>
<circle cx="1734.5" cy="1836.9" r="15.6" fill="#fff" stroke="#fa7474" stroke-width="2.1"/>
<circle cx="1743.0" cy="1855.4" r="15.6" fill="#fff" stroke="#fa7474" stroke-width="2.1"/>
<circle cx="1750.0" cy="1859.7" r="15.6" fill="#fff" stroke="#fa7474" stroke-width="2.1"/>
<circle cx="1759.5" cy="1782.7" r="15.6" fill="#fff" stroke="#fa7474" stroke-width="2.1"/>
<circle cx="1766.7" cy="1809.8" r="15.6" fill="#fff" stroke="#fa7474" stroke-width="2.1"/>
<circle cx="1773.8" cy="1703.6" r="15.6" fill="#fff" stroke="#fa7474" stroke-width="2.1"/>
<circle cx="1782.0" cy="1864.1" r="15.6" fill="#fff" stroke="#fa7474" stroke-width="2.1"/>
<circle cx="1789.3" cy="1706.8" r="15.6" fill="#fff" stroke="#fa7474" stroke-width="2.1"/>
<circle cx="1795.0" cy="1805.5" r="15.6" fill="#fff" stroke="#fa7474" stroke-width="2.1"/>
<circle cx="1803.6" cy="1818.5" r="15.6" fill="#fff" stroke="#fa7474" stroke-width="2.1"/>
<circle cx="1809.5" cy="1781.6" r="15.6" fill="#fff" stroke="#fa7474" stroke-width="2.1"/>
<circle cx="1816.7" cy="1867.3" r="15.6" fill="#fff" stroke="#fa7474" stroke-width="2.1"/>
<circle cx="1823.8" cy="1768.6" r="15.6" fill="#fff" stroke="#fa7474" stroke-width="2.1"/>
<circle cx="1831.0" cy="1807.7" r="15.6" fill="#fff" stroke="#fa7474" stroke-width="2.1"/>
<circle cx="1834.5" cy="1871.7" r="15.6" fill="#fff" stroke="#fa7474" stroke-width="2.1"/>
<circle cx="1844.0" cy="1694.9" r="15.6" fill="#fff" stroke="#fa7474" stroke-width="2.1"/>
<circle cx="1848.8" cy="1603.8" r="15.6" fill="#fff" stroke="#fa7474" stroke-width="2.1"/>
<circle cx="1856.0" cy="1869.5" r="15.6" fill="#fff" stroke="#fa7474" stroke-width="2.1"/>
<circle cx="1860.7" cy="1654.8" r="15.6" fill="#fff" stroke="#fa7474" stroke-width="2.1"/>
<circle cx="1867.9" cy="1757.8" r="15.6" fill="#fff" stroke="#fa7474" stroke-width="2.1"/>
<circle cx="1873.8" cy="1614.6" r="15.6" fill="#fff" stroke="#fa7474" stroke-width="2.1"/>
<circle cx="1881.0" cy="1648.2" r="15.6" fill="#fff" stroke="#fa7474" stroke-width="2.1"/>
<circle cx="1885.7" cy="1861.9" r="15.6" fill="#fff" stroke="#fa7474" stroke-width="2.1"/>
<circle cx="1890.5" cy="1591.9" r="15.6" fill="#fff" stroke="#fa7474" stroke-width="2.1"/>
<circle cx="1901.0" cy="1694.9" r="15.6" fill="#fff" stroke="#fa7474" stroke-width="2.1"/>
<circle cx="1907.0" cy="1838.0" r="15.6" fill="#fff" stroke="#fa7474" stroke-width="2.1"/>
<circle cx="1910.7" cy="1645.0" r="15.6" fill="#fff" stroke="#fa7474" stroke-width="2.1"/>
<circle cx="1915.5" cy="1731.8" r="15.6" fill="#fff" stroke="#fa7474" stroke-width="2.1"/>
<circle cx="1922.6" cy="1653.7" r="15.6" fill="#fff" stroke="#fa7474" stroke-width="2.1"/>
<circle cx="1928.6" cy="1540.9" r="15.6" fill="#fff" stroke="#fa7474" stroke-width="2.1"/>
<circle cx="1931.0" cy="1552.8" r="15.6" fill="#fff" stroke="#fa7474" stroke-width="2.1"/>
<circle cx="1938.0" cy="1730.7" r="15.6" fill="#fff" stroke="#fa7474" stroke-width="2.1"/>
<circle cx="1942.9" cy="1557.1" r="15.6" fill="#fff" stroke="#fa7474" stroke-width="2.1"/>
<circle cx="1946.4" cy="1572.3" r="15.6" fill="#fff" stroke="#fa7474" stroke-width="2.1"/>
<circle cx="1954.8" cy="1847.8" r="15.6" fill="#fff" stroke="#fa7474" stroke-width="2.1"/>
<circle cx="1962.0" cy="1844.5" r="15.6" fill="#fff" stroke="#fa7474" stroke-width="2.1"/>
<circle cx="1966.7" cy="1738.3" r="15.6" fill="#fff" stroke="#fa7474" stroke-width="2.1"/>
<circle cx="1970.0" cy="1702.5" r="15.6" fill="#fff" stroke="#fa7474" stroke-width="2.1"/>
<circle cx="1975.0" cy="1562.6" r="15.6" fill="#fff" stroke="#fa7474" stroke-width="2.1"/>
<circle cx="1979.8" cy="1457.4" r="15.6" fill="#fff" stroke="#fa7474" stroke-width="2.1"/>
<circle cx="1983.0" cy="1508.3" r="15.6" fill="#fff" stroke="#fa7474" stroke-width="2.1"/>
<circle cx="1990.5" cy="1531.1" r="15.6" fill="#fff" stroke="#fa7474" stroke-width="2.1"/>
<circle cx="1995.0" cy="1579.9" r="15.6" fill="#fff" stroke="#fa7474" stroke-width="2.1"/>
<circle cx="2004.8" cy="1610.3" r="15.6" fill="#fff" stroke="#fa7474" stroke-width="2.1"/>
<circle cx="2011.9" cy="1635.2" r="15.6" fill="#fff" stroke="#fa7474" stroke-width="2.1"/>
<circle cx="2016.7" cy="1645.0" r="15.6" fill="#fff" stroke="#fa7474" stroke-width="2.1"/>
<circle cx="2019.0" cy="1829.4" r="15.6" fill="#fff" stroke="#fa7474" stroke-width="2.1"/>
<circle cx="2026.2" cy="1666.7" r="15.6" fill="#fff" stroke="#fa7474" stroke-width="2.1"/>
<circle cx="2029.8" cy="1514.9" r="15.6" fill="#fff" stroke="#fa7474" stroke-width="2.1"/>
<circle cx="2033.0" cy="1543.0" r="15.6" fill="#fff" stroke="#fa7474" stroke-width="2.1"/>
<circle cx="2038.0" cy="1582.1" r="15.6" fill="#fff" stroke="#fa7474" stroke-width="2.1"/>
<circle cx="2041.7" cy="1863.0" r="15.6" fill="#fff" stroke="#fa7474" stroke-width="2.1"/>
<circle cx="2046.4" cy="1450.9" r="15.6" fill="#fff" stroke="#fa7474" stroke-width="2.1"/>
<circle cx="2050.0" cy="1492.1" r="15.6" fill="#fff" stroke="#fa7474" stroke-width="2.1"/>
<circle cx="2051.2" cy="1536.5" r="15.6" fill="#fff" stroke="#fa7474" stroke-width="2.1"/>
<circle cx="2059.5" cy="1661.3" r="15.6" fill="#fff" stroke="#fa7474" stroke-width="2.1"/>
<circle cx="2059.5" cy="1600.5" r="15.6" fill="#fff" stroke="#fa7474" stroke-width="2.1"/>
<circle cx="2067.9" cy="1579.9" r="15.6" fill="#fff" stroke="#fa7474" stroke-width="2.1"/>
<circle cx="2073.8" cy="1526.8" r="15.6" fill="#fff" stroke="#fa7474" stroke-width="2.1"/>
<circle cx="2079.8" cy="1619.0" r="15.6" fill="#fff" stroke="#fa7474" stroke-width="2.1"/>
<circle cx="2083.3" cy="1715.5" r="15.6" fill="#fff" stroke="#fa7474" stroke-width="2.1"/>
<circle cx="2085.7" cy="1681.9" r="15.6" fill="#fff" stroke="#fa7474" stroke-width="2.1"/>
<circle cx="2088.0" cy="1751.3" r="15.6" fill="#fff" stroke="#fa7474" stroke-width="2.1"/>
<circle cx="2092.9" cy="1482.3" r="15.6" fill="#fff" stroke="#fa7474" stroke-width="2.1"/>
<circle cx="2097.6" cy="1558.2" r="15.6" fill="#fff" stroke="#fa7474" stroke-width="2.1"/>
<circle cx="2100.0" cy="1500.8" r="15.6" fill="#fff" stroke="#fa7474" stroke-width="2.1"/>
<circle cx="2102.4" cy="1746.9" r="15.6" fill="#fff" stroke="#fa7474" stroke-width="2.1"/>
<circle cx="2104.8" cy="1604.9" r="15.6" fill="#fff" stroke="#fa7474" stroke-width="2.1"/>
<circle cx="2107.0" cy="1652.6" r="15.6" fill="#fff" stroke="#fa7474" stroke-width="2.1"/>
<circle cx="2110.7" cy="1794.7" r="15.6" fill="#fff" stroke="#fa7474" stroke-width="2.1"/>
<circle cx="2114.3" cy="1484.5" r="15.6" fill="#fff" stroke="#fa7474" stroke-width="2.1"/>
<circle cx="2119.0" cy="1540.9" r="15.6" fill="#fff" stroke="#fa7474" stroke-width="2.1"/>
<circle cx="2120.0" cy="1574.5" r="15.6" fill="#fff" stroke="#fa7474" stroke-width="2.1"/>
<polyline points="393.1,1229.6 641.6,1306.6 787.1,1236.1 890.2,1196.0 970.3,1188.4 1035.6,1216.6 1090.9,1123.3 1138.8,1180.8 1181.1,1162.4 1218.8,1223.1 1253.0,1216.6 1284.2,1236.1 1312.9,1173.2 1339.5,1244.8 1364.3,1215.5 1387.4,1273.0 1409.2,1262.2 1429.7,1222.0 1449.0,1173.2 1467.4,1322.9 1484.9,1267.6 1501.6,1173.2 1517.6,1255.7 1532.8,1219.6 1547.5,1255.7 1561.5,1202.4 1575.1,1245.1 1588.1,1229.0 1600.7,1211.3 1612.9,1265.8 1624.6,1167.8 1636.0,1217.1 1647.0,1201.7 1657.7,1291.4 1668.1,1275.5 1678.2,1192.8 1688.1,1278.9 1697.6,1194.9 1707.0,1238.0 1716.0,1167.8 1724.9,1257.9 1733.5,1158.1 1742.0,1277.6 1750.2,1174.3 1758.3,1184.7 1766.2,1335.9 1773.9,1257.7 1781.4,1255.9 1788.8,1225.4 1796.1,1276.0 1803.2,1196.4 1810.1,1294.3 1817.0,1174.3 1823.7,1274.3 1830.2,1243.9 1836.7,1277.3 1843.1,1174.3 1849.3,1174.3 1855.4,1203.0 1861.4,1259.0 1867.4,1328.7 1873.2,1227.3 1878.9,1212.0 1884.6,1239.8 1890.2,1191.1 1895.6,1250.2 1901.0,1174.3 1906.3,1214.2 1911.6,1333.7 1916.7,1187.3 1921.8,1223.2 1926.8,1207.6 1931.8,1249.8 1936.7,1207.9 1941.5,1267.2 1946.2,1257.6 1950.9,1347.8 1955.5,1194.2 1960.1,1257.7 1964.6,1167.8 1969.1,1286.4 1973.5,1347.8 1977.8,1355.4 1982.1,1220.6 1986.4,1252.2 1990.6,1193.8 1994.7,1271.1 1998.8,1265.0 2002.9,1224.5 2006.9,1292.3 2010.8,1220.4 2014.7,1293.6 2018.6,1382.5 2022.5,1261.1 2026.3,1230.1 2030.0,1213.4 2033.7,1234.3 2037.4,1338.1 2041.0,1194.3 2044.6,1319.9 2048.2,1263.3 2051.8,1253.7 2055.3,1207.5 2058.7,1211.9 2062.1,1211.4 2065.5,1174.3 2068.9,1244.9 2072.3,1222.7 2075.6,1248.8 2078.8,1256.7 2082.1,1258.0 2085.3,1197.4 2088.5,1258.1 2091.6,1225.3 2094.8,1252.8 2097.9,1291.8 2101.0,1253.9 2104.0,1258.6 2107.0,1289.1 2110.0,1224.9 2113.0,1275.0 2116.0,1235.0 2118.9,1245.3 2121.8,1250.4 2124.7,1235.4" fill="none" stroke="#707070" stroke-width="2.0"/>
<circle cx="393.1" cy="1229.6" r="16.5" fill="url(#gG)"/>
<circle cx="641.6" cy="1306.6" r="16.5" fill="url(#gG)"/>
<circle cx="787.1" cy="1236.1" r="16.5" fill="url(#gG)"/>
<circle cx="890.2" cy="1196.0" r="16.5" fill="url(#gG)"/>
<circle cx="970.3" cy="1188.4" r="16.5" fill="url(#gG)"/>
<circle cx="1035.6" cy="1216.6" r="16.5" fill="url(#gG)"/>
<circle cx="1090.9" cy="1123.3" r="16.5" fill="url(#gG)"/>
<circle cx="1138.8" cy="1180.8" r="16.5" fill="url(#gG)"/>
<circle cx="1181.1" cy="1162.4" r="16.5" fill="url(#gG)"/>
<circle cx="1218.8" cy="1223.1" r="16.5" fill="url(#gG)"/>
<circle cx="1253.0" cy="1216.6" r="16.5" fill="url(#gG)"/>
<circle cx="1284.2" cy="1236.1" r="16.5" fill="url(#gG)"/>
<circle cx="1312.9" cy="1173.2" r="16.5" fill="url(#gG)"/>
<circle cx="1339.5" cy="1244.8" r="16.5" fill="url(#gG)"/>
<circle cx="1364.3" cy="1215.5" r="16.5" fill="url(#gG)"/>
<circle cx="1387.4" cy="1273.0" r="16.5" fill="url(#gG)"/>
<circle cx="1409.2" cy="1262.2" r="16.5" fill="url(#gG)"/>
<circle cx="1429.7" cy="1222.0" r="16.5" fill="url(#gG)"/>
<circle cx="1449.0" cy="1173.2" r="16.5" fill="url(#gG)"/>
<circle cx="1467.4" cy="1322.9" r="16.5" fill="url(#gG)"/>
<circle cx="1484.9" cy="1267.6" r="16.5" fill="url(#gG)"/>
<circle cx="1501.6" cy="1173.2" r="16.5" fill="url(#gG)"/>
<circle cx="1517.6" cy="1255.7" r="16.5" fill="url(#gG)"/>
<circle cx="1532.8" cy="1219.6" r="16.5" fill="url(#gG)"/>
<circle cx="1547.5" cy="1255.7" r="16.5" fill="url(#gG)"/>
<circle cx="1561.5" cy="1202.4" r="16.5" fill="url(#gG)"/>
<circle cx="1575.1" cy="1245.1" r="16.5" fill="url(#gG)"/>
<circle cx="1588.1" cy="1229.0" r="16.5" fill="url(#gG)"/>
<circle cx="1600.7" cy="1211.3" r="16.5" fill="url(#gG)"/>
<circle cx="1612.9" cy="1265.8" r="16.5" fill="url(#gG)"/>
<circle cx="1624.6" cy="1167.8" r="16.5" fill="url(#gG)"/>
<circle cx="1636.0" cy="1217.1" r="16.5" fill="url(#gG)"/>
<circle cx="1647.0" cy="1201.7" r="16.5" fill="url(#gG)"/>
<circle cx="1657.7" cy="1291.4" r="16.5" fill="url(#gG)"/>
<circle cx="1668.1" cy="1275.5" r="16.5" fill="url(#gG)"/>
<circle cx="1678.2" cy="1192.8" r="16.5" fill="url(#gG)"/>
<circle cx="1688.1" cy="1278.9" r="16.5" fill="url(#gG)"/>
<circle cx="1697.6" cy="1194.9" r="16.5" fill="url(#gG)"/>
<circle cx="1707.0" cy="1238.0" r="16.5" fill="url(#gG)"/>
<circle cx="1716.0" cy="1167.8" r="16.5" fill="url(#gG)"/>
<circle cx="1724.9" cy="1257.9" r="16.5" fill="url(#gG)"/>
<circle cx="1733.5" cy="1158.1" r="16.5" fill="url(#gG)"/>
<circle cx="1742.0" cy="1277.6" r="16.5" fill="url(#gG)"/>
<circle cx="1750.2" cy="1174.3" r="16.5" fill="url(#gG)"/>
<circle cx="1758.3" cy="1184.7" r="16.5" fill="url(#gG)"/>
<circle cx="1766.2" cy="1335.9" r="16.5" fill="url(#gG)"/>
<circle cx="1773.9" cy="1257.7" r="16.5" fill="url(#gG)"/>
<circle cx="1781.4" cy="1255.9" r="16.5" fill="url(#gG)"/>
<circle cx="1788.8" cy="1225.4" r="16.5" fill="url(#gG)"/>
<circle cx="1796.1" cy="1276.0" r="16.5" fill="url(#gG)"/>
<circle cx="1803.2" cy="1196.4" r="16.5" fill="url(#gG)"/>
<circle cx="1810.1" cy="1294.3" r="16.5" fill="url(#gG)"/>
<circle cx="1817.0" cy="1174.3" r="16.5" fill="url(#gG)"/>
<circle cx="1823.7" cy="1274.3" r="16.5" fill="url(#gG)"/>
<circle cx="1830.2" cy="1243.9" r="16.5" fill="url(#gG)"/>
<circle cx="1836.7" cy="1277.3" r="16.5" fill="url(#gG)"/>
<circle cx="1843.1" cy="1174.3" r="16.5" fill="url(#gG)"/>
<circle cx="1849.3" cy="1174.3" r="16.5" fill="url(#gG)"/>
<circle cx="1855.4" cy="1203.0" r="16.5" fill="url(#gG)"/>
<circle cx="1861.4" cy="1259.0" r="16.5" fill="url(#gG)"/>
<circle cx="1867.4" cy="1328.7" r="16.5" fill="url(#gG)"/>
<circle cx="1873.2" cy="1227.3" r="16.5" fill="url(#gG)"/>
<circle cx="1878.9" cy="1212.0" r="16.5" fill="url(#gG)"/>
<circle cx="1884.6" cy="1239.8" r="16.5" fill="url(#gG)"/>
<circle cx="1890.2" cy="1191.1" r="16.5" fill="url(#gG)"/>
<circle cx="1895.6" cy="1250.2" r="16.5" fill="url(#gG)"/>
<circle cx="1901.0" cy="1174.3" r="16.5" fill="url(#gG)"/>
<circle cx="1906.3" cy="1214.2" r="16.5" fill="url(#gG)"/>
<circle cx="1911.6" cy="1333.7" r="16.5" fill="url(#gG)"/>
<circle cx="1916.7" cy="1187.3" r="16.5" fill="url(#gG)"/>
<circle cx="1921.8" cy="1223.2" r="16.5" fill="url(#gG)"/>
<circle cx="1926.8" cy="1207.6" r="16.5" fill="url(#gG)"/>
<circle cx="1931.8" cy="1249.8" r="16.5" fill="url(#gG)"/>
<circle cx="1936.7" cy="1207.9" r="16.5" fill="url(#gG)"/>
<circle cx="1941.5" cy="1267.2" r="16.5" fill="url(#gG)"/>
<circle cx="1946.2" cy="1257.6" r="16.5" fill="url(#gG)"/>
<circle cx="1950.9" cy="1347.8" r="16.5" fill="url(#gG)"/>
<circle cx="1955.5" cy="1194.2" r="16.5" fill="url(#gG)"/>
<circle cx="1960.1" cy="1257.7" r="16.5" fill="url(#gG)"/>
<circle cx="1964.6" cy="1167.8" r="16.5" fill="url(#gG)"/>
<circle cx="1969.1" cy="1286.4" r="16.5" fill="url(#gG)"/>
<circle cx="1973.5" cy="1347.8" r="16.5" fill="url(#gG)"/>
<circle cx="1977.8" cy="1355.4" r="16.5" fill="url(#gG)"/>
<circle cx="1982.1" cy="1220.6" r="16.5" fill="url(#gG)"/>
<circle cx="1986.4" cy="1252.2" r="16.5" fill="url(#gG)"/>
<circle cx="1990.6" cy="1193.8" r="16.5" fill="url(#gG)"/>
<circle cx="1994.7" cy="1271.1" r="16.5" fill="url(#gG)"/>
<circle cx="1998.8" cy="1265.0" r="16.5" fill="url(#gG)"/>
<circle cx="2002.9" cy="1224.5" r="16.5" fill="url(#gG)"/>
<circle cx="2006.9" cy="1292.3" r="16.5" fill="url(#gG)"/>
<circle cx="2010.8" cy="1220.4" r="16.5" fill="url(#gG)"/>
<circle cx="2014.7" cy="1293.6" r="16.5" fill="url(#gG)"/>
<circle cx="2018.6" cy="1382.5" r="16.5" fill="url(#gG)"/>
<circle cx="2022.5" cy="1261.1" r="16.5" fill="url(#gG)"/>
<circle cx="2026.3" cy="1230.1" r="16.5" fill="url(#gG)"/>
<circle cx="2030.0" cy="1213.4" r="16.5" fill="url(#gG)"/>
<circle cx="2033.7" cy="1234.3" r="16.5" fill="url(#gG)"/>
<circle cx="2037.4" cy="1338.1" r="16.5" fill="url(#gG)"/>
<circle cx="2041.0" cy="1194.3" r="16.5" fill="url(#gG)"/>
<circle cx="2044.6" cy="1319.9" r="16.5" fill="url(#gG)"/>
<circle cx="2048.2" cy="1263.3" r="16.5" fill="url(#gG)"/>
<circle cx="2051.8" cy="1253.7" r="16.5" fill="url(#gG)"/>
<circle cx="2055.3" cy="1207.5" r="16.5" fill="url(#gG)"/>
<circle cx="2058.7" cy="1211.9" r="16.5" fill="url(#gG)"/>
<circle cx="2062.1" cy="1211.4" r="16.5" fill="url(#gG)"/>
<circle cx="2065.5" cy="1174.3" r="16.5" fill="url(#gG)"/>
<circle cx="2068.9" cy="1244.9" r="16.5" fill="url(#gG)"/>
<circle cx="2072.3" cy="1222.7" r="16.5" fill="url(#gG)"/>
<circle cx="2075.6" cy="1248.8" r="16.5" fill="url(#gG)"/>
<circle cx="2078.8" cy="1256.7" r="16.5" fill="url(#gG)"/>
<circle cx="2082.1" cy="1258.0" r="16.5" fill="url(#gG)"/>
<circle cx="2085.3" cy="1197.4" r="16.5" fill="url(#gG)"/>
<circle cx="2088.5" cy="1258.1" r="16.5" fill="url(#gG)"/>
<circle cx="2091.6" cy="1225.3" r="16.5" fill="url(#gG)"/>
<circle cx="2094.8" cy="1252.8" r="16.5" fill="url(#gG)"/>
<circle cx="2097.9" cy="1291.8" r="16.5" fill="url(#gG)"/>
<circle cx="2101.0" cy="1253.9" r="16.5" fill="url(#gG)"/>
<circle cx="2104.0" cy="1258.6" r="16.5" fill="url(#gG)"/>
<circle cx="2107.0" cy="1289.1" r="16.5" fill="url(#gG)"/>
<circle cx="2110.0" cy="1224.9" r="16.5" fill="url(#gG)"/>
<circle cx="2113.0" cy="1275.0" r="16.5" fill="url(#gG)"/>
<circle cx="2116.0" cy="1235.0" r="16.5" fill="url(#gG)"/>
<circle cx="2118.9" cy="1245.3" r="16.5" fill="url(#gG)"/>
<circle cx="2121.8" cy="1250.4" r="16.5" fill="url(#gG)"/>
<circle cx="2124.7" cy="1235.4" r="16.5" fill="url(#gG)"/>
<polyline points="393.1,1497.5 641.6,1385.8 787.1,1298.0 890.2,1321.8 970.3,1260.0 1035.6,1316.4 1090.9,1214.4 1138.8,1271.9 1181.1,1268.7 1218.8,1242.6 1253.0,1286.0 1284.2,1275.2 1312.9,1355.4 1339.5,1248.1 1364.3,1263.2 1387.4,1242.6 1409.2,1255.7 1429.7,1235.1 1449.0,1235.1 1467.4,1346.8 1484.9,1347.8 1501.6,1240.5 1517.6,1314.2 1532.8,1247.0 1547.5,1307.7 1561.5,1293.6 1575.1,1288.2 1588.1,1187.3 1600.7,1283.9 1612.9,1328.3 1624.6,1206.9 1636.0,1253.5 1647.0,1233.9 1657.7,1276.3 1668.1,1260.8 1678.2,1315.3 1688.1,1239.4 1697.6,1288.9 1707.0,1201.4 1716.0,1208.8 1724.9,1401.0 1733.5,1241.0 1742.0,1342.4 1750.2,1206.9 1758.3,1268.7 1766.2,1341.6 1773.9,1284.6 1781.4,1283.6 1788.8,1240.8 1796.1,1242.3 1803.2,1264.7 1810.1,1340.8 1817.0,1214.6 1823.7,1255.2 1830.2,1240.7 1836.7,1175.4 1843.1,1256.7 1849.3,1247.1 1855.4,1234.9 1861.4,1245.2 1867.4,1324.0 1873.2,1280.0 1878.9,1206.9 1884.6,1241.4 1890.2,1257.9 1895.6,1309.9 1901.0,1206.9 1906.3,1254.5 1911.6,1342.4 1916.7,1315.3 1921.8,1276.8 1926.8,1253.9 1931.8,1322.2 1936.7,1266.9 1941.5,1291.4 1946.2,1284.6 1950.9,1342.4 1955.5,1342.4 1960.1,1342.4 1964.6,1231.9 1969.1,1338.9 1973.5,1332.2 1977.8,1313.4 1982.1,1298.7 1986.4,1280.4 1990.6,1341.3 1994.7,1250.6 1998.8,1327.0 2002.9,1276.4 2006.9,1271.6 2010.8,1292.1 2014.7,1335.0 2018.6,1360.9 2022.5,1274.2 2026.3,1267.7 2030.0,1263.0 2033.7,1237.3 2037.4,1287.3 2041.0,1259.2 2044.6,1279.6 2048.2,1326.1 2051.8,1334.8 2055.3,1221.9 2058.7,1232.1 2062.1,1262.7 2065.5,1206.9 2068.9,1264.1 2072.3,1212.5 2075.6,1312.6 2078.8,1331.6 2082.1,1317.9 2085.3,1248.1 2088.5,1290.4 2091.6,1308.5 2094.8,1290.8 2097.9,1280.9 2101.0,1333.7 2104.0,1300.5 2107.0,1309.4 2110.0,1286.4 2113.0,1311.7 2116.0,1296.7 2118.9,1274.8 2121.8,1245.7 2124.7,1294.4" fill="none" stroke="#fa7474" stroke-width="2.0"/>
<circle cx="393.1" cy="1497.5" r="16.5" fill="url(#gP)"/>
<circle cx="641.6" cy="1385.8" r="16.5" fill="url(#gP)"/>
<circle cx="787.1" cy="1298.0" r="16.5" fill="url(#gP)"/>
<circle cx="890.2" cy="1321.8" r="16.5" fill="url(#gP)"/>
<circle cx="970.3" cy="1260.0" r="16.5" fill="url(#gP)"/>
<circle cx="1035.6" cy="1316.4" r="16.5" fill="url(#gP)"/>
<circle cx="1090.9" cy="1214.4" r="16.5" fill="url(#gP)"/>
<circle cx="1138.8" cy="1271.9" r="16.5" fill="url(#gP)"/>
<circle cx="1181.1" cy="1268.7" r="16.5" fill="url(#gP)"/>
<circle cx="1218.8" cy="1242.6" r="16.5" fill="url(#gP)"/>
<circle cx="1253.0" cy="1286.0" r="16.5" fill="url(#gP)"/>
<circle cx="1284.2" cy="1275.2" r="16.5" fill="url(#gP)"/>
<circle cx="1312.9" cy="1355.4" r="16.5" fill="url(#gP)"/>
<circle cx="1339.5" cy="1248.1" r="16.5" fill="url(#gP)"/>
<circle cx="1364.3" cy="1263.2" r="16.5" fill="url(#gP)"/>
<circle cx="1387.4" cy="1242.6" r="16.5" fill="url(#gP)"/>
<circle cx="1409.2" cy="1255.7" r="16.5" fill="url(#gP)"/>
<circle cx="1429.7" cy="1235.1" r="16.5" fill="url(#gP)"/>
<circle cx="1449.0" cy="1235.1" r="16.5" fill="url(#gP)"/>
<circle cx="1467.4" cy="1346.8" r="16.5" fill="url(#gP)"/>
<circle cx="1484.9" cy="1347.8" r="16.5" fill="url(#gP)"/>
<circle cx="1501.6" cy="1240.5" r="16.5" fill="url(#gP)"/>
<circle cx="1517.6" cy="1314.2" r="16.5" fill="url(#gP)"/>
<circle cx="1532.8" cy="1247.0" r="16.5" fill="url(#gP)"/>
<circle cx="1547.5" cy="1307.7" r="16.5" fill="url(#gP)"/>
<circle cx="1561.5" cy="1293.6" r="16.5" fill="url(#gP)"/>
<circle cx="1575.1" cy="1288.2" r="16.5" fill="url(#gP)"/>
<circle cx="1588.1" cy="1187.3" r="16.5" fill="url(#gP)"/>
<circle cx="1600.7" cy="1283.9" r="16.5" fill="url(#gP)"/>
<circle cx="1612.9" cy="1328.3" r="16.5" fill="url(#gP)"/>
<circle cx="1624.6" cy="1206.9" r="16.5" fill="url(#gP)"/>
<circle cx="1636.0" cy="1253.5" r="16.5" fill="url(#gP)"/>
<circle cx="1647.0" cy="1233.9" r="16.5" fill="url(#gP)"/>
<circle cx="1657.7" cy="1276.3" r="16.5" fill="url(#gP)"/>
<circle cx="1668.1" cy="1260.8" r="16.5" fill="url(#gP)"/>
<circle cx="1678.2" cy="1315.3" r="16.5" fill="url(#gP)"/>
<circle cx="1688.1" cy="1239.4" r="16.5" fill="url(#gP)"/>
<circle cx="1697.6" cy="1288.9" r="16.5" fill="url(#gP)"/>
<circle cx="1707.0" cy="1201.4" r="16.5" fill="url(#gP)"/>
<circle cx="1716.0" cy="1208.8" r="16.5" fill="url(#gP)"/>
<circle cx="1724.9" cy="1401.0" r="16.5" fill="url(#gP)"/>
<circle cx="1733.5" cy="1241.0" r="16.5" fill="url(#gP)"/>
<circle cx="1742.0" cy="1342.4" r="16.5" fill="url(#gP)"/>
<circle cx="1750.2" cy="1206.9" r="16.5" fill="url(#gP)"/>
<circle cx="1758.3" cy="1268.7" r="16.5" fill="url(#gP)"/>
<circle cx="1766.2" cy="1341.6" r="16.5" fill="url(#gP)"/>
<circle cx="1773.9" cy="1284.6" r="16.5" fill="url(#gP)"/>
<circle cx="1781.4" cy="1283.6" r="16.5" fill="url(#gP)"/>
<circle cx="1788.8" cy="1240.8" r="16.5" fill="url(#gP)"/>
<circle cx="1796.1" cy="1242.3" r="16.5" fill="url(#gP)"/>
<circle cx="1803.2" cy="1264.7" r="16.5" fill="url(#gP)"/>
<circle cx="1810.1" cy="1340.8" r="16.5" fill="url(#gP)"/>
<circle cx="1817.0" cy="1214.6" r="16.5" fill="url(#gP)"/>
<circle cx="1823.7" cy="1255.2" r="16.5" fill="url(#gP)"/>
<circle cx="1830.2" cy="1240.7" r="16.5" fill="url(#gP)"/>
<circle cx="1836.7" cy="1175.4" r="16.5" fill="url(#gP)"/>
<circle cx="1843.1" cy="1256.7" r="16.5" fill="url(#gP)"/>
<circle cx="1849.3" cy="1247.1" r="16.5" fill="url(#gP)"/>
<circle cx="1855.4" cy="1234.9" r="16.5" fill="url(#gP)"/>
<circle cx="1861.4" cy="1245.2" r="16.5" fill="url(#gP)"/>
<circle cx="1867.4" cy="1324.0" r="16.5" fill="url(#gP)"/>
<circle cx="1873.2" cy="1280.0" r="16.5" fill="url(#gP)"/>
<circle cx="1878.9" cy="1206.9" r="16.5" fill="url(#gP)"/>
<circle cx="1884.6" cy="1241.4" r="16.5" fill="url(#gP)"/>
<circle cx="1890.2" cy="1257.9" r="16.5" fill="url(#gP)"/>
<circle cx="1895.6" cy="1309.9" r="16.5" fill="url(#gP)"/>
<circle cx="1901.0" cy="1206.9" r="16.5" fill="url(#gP)"/>
<circle cx="1906.3" cy="1254.5" r="16.5" fill="url(#gP)"/>
<circle cx="1911.6" cy="1342.4" r="16.5" fill="url(#gP)"/>
<circle cx="1916.7" cy="1315.3" r="16.5" fill="url(#gP)"/>
<circle cx="1921.8" cy="1276.8" r="16.5" fill="url(#gP)"/>
<circle cx="1926.8" cy="1253.9" r="16.5" fill="url(#gP)"/>
<circle cx="1931.8" cy="1322.2" r="16.5" fill="url(#gP)"/>
<circle cx="1936.7" cy="1266.9" r="16.5" fill="url(#gP)"/>
<circle cx="1941.5" cy="1291.4" r="16.5" fill="url(#gP)"/>
<circle cx="1946.2" cy="1284.6" r="16.5" fill="url(#gP)"/>
<circle cx="1950.9" cy="1342.4" r="16.5" fill="url(#gP)"/>
<circle cx="1955.5" cy="1342.4" r="16.5" fill="url(#gP)"/>
<circle cx="1960.1" cy="1342.4" r="16.5" fill="url(#gP)"/>
<circle cx="1964.6" cy="1231.9" r="16.5" fill="url(#gP)"/>
<circle cx="1969.1" cy="1338.9" r="16.5" fill="url(#gP)"/>
<circle cx="1973.5" cy="1332.2" r="16.5" fill="url(#gP)"/>
<circle cx="1977.8" cy="1313.4" r="16.5" fill="url(#gP)"/>
<circle cx="1982.1" cy="1298.7" r="16.5" fill="url(#gP)"/>
<circle cx="1986.4" cy="1280.4" r="16.5" fill="url(#gP)"/>
<circle cx="1990.6" cy="1341.3" r="16.5" fill="url(#gP)"/>
<circle cx="1994.7" cy="1250.6" r="16.5" fill="url(#gP)"/>
<circle cx="1998.8" cy="1327.0" r="16.5" fill="url(#gP)"/>
<circle cx="2002.9" cy="1276.4" r="16.5" fill="url(#gP)"/>
<circle cx="2006.9" cy="1271.6" r="16.5" fill="url(#gP)"/>
<circle cx="2010.8" cy="1292.1" r="16.5" fill="url(#gP)"/>
<circle cx="2014.7" cy="1335.0" r="16.5" fill="url(#gP)"/>
<circle cx="2018.6" cy="1360.9" r="16.5" fill="url(#gP)"/>
<circle cx="2022.5" cy="1274.2" r="16.5" fill="url(#gP)"/>
<circle cx="2026.3" cy="1267.7" r="16.5" fill="url(#gP)"/>
<circle cx="2030.0" cy="1263.0" r="16.5" fill="url(#gP)"/>
<circle cx="2033.7" cy="1237.3" r="16.5" fill="url(#gP)"/>
<circle cx="2037.4" cy="1287.3" r="16.5" fill="url(#gP)"/>
<circle cx="2041.0" cy="1259.2" r="16.5" fill="url(#gP)"/>
<circle cx="2044.6" cy="1279.6" r="16.5" fill="url(#gP)"/>
<circle cx="2048.2" cy="1326.1" r="16.5" fill="url(#gP)"/>
<circle cx="2051.8" cy="1334.8" r="16.5" fill="url(#gP)"/>
<circle cx="2055.3" cy="1221.9" r="16.5" fill="url(#gP)"/>
<circle cx="2058.7" cy="1232.1" r="16.5" fill="url(#gP)"/>
<circle cx="2062.1" cy="1262.7" r="16.5" fill="url(#gP)"/>
<circle cx="2065.5" cy="1206.9" r="16.5" fill="url(#gP)"/>
<circle cx="2068.9" cy="1264.1" r="16.5" fill="url(#gP)"/>
<circle cx="2072.3" cy="1212.5" r="16.5" fill="url(#gP)"/>
<circle cx="2075.6" cy="1312.6" r="16.5" fill="url(#gP)"/>
<circle cx="2078.8" cy="1331.6" r="16.5" fill="url(#gP)"/>
<circle cx="2082.1" cy="1317.9" r="16.5" fill="url(#gP)"/>
<circle cx="2085.3" cy="1248.1" r="16.5" fill="url(#gP)"/>
<circle cx="2088.5" cy="1290.4" r="16.5" fill="url(#gP)"/>
<circle cx="2091.6" cy="1308.5" r="16.5" fill="url(#gP)"/>
<circle cx="2094.8" cy="1290.8" r="16.5" fill="url(#gP)"/>
<circle cx="2097.9" cy="1280.9" r="16.5" fill="url(#gP)"/>
<circle cx="2101.0" cy="1333.7" r="16.5" fill="url(#gP)"/>
<circle cx="2104.0" cy="1300.5" r="16.5" fill="url(#gP)"/>
<circle cx="2107.0" cy="1309.4" r="16.5" fill="url(#gP)"/>
<circle cx="2110.0" cy="1286.4" r="16.5" fill="url(#gP)"/>
<circle cx="2113.0" cy="1311.7" r="16.5" fill="url(#gP)"/>
<circle cx="2116.0" cy="1296.7" r="16.5" fill="url(#gP)"/>
<circle cx="2118.9" cy="1274.8" r="16.5" fill="url(#gP)"/>
<circle cx="2121.8" cy="1245.7" r="16.5" fill="url(#gP)"/>
<circle cx="2124.7" cy="1294.4" r="16.5" fill="url(#gP)"/>
<polyline points="393.1,1296.9 641.6,1302.3 787.1,1229.6 890.2,1241.6 970.3,1164.6 1035.6,1204.7 1090.9,1189.5 1138.8,1193.8 1181.1,1146.1 1218.8,1232.9 1253.0,1236.1 1284.2,1215.5 1312.9,1261.1 1339.5,1283.9 1364.3,1255.7 1387.4,1264.3 1409.2,1228.5 1429.7,1189.5 1449.0,1234.0 1467.4,1238.3 1484.9,1250.2 1501.6,1201.4 1517.6,1291.4 1532.8,1217.7 1547.5,1255.7 1561.5,1223.1 1575.1,1270.8 1588.1,1194.9 1600.7,1267.6 1612.9,1239.4 1624.6,1185.2 1636.0,1213.0 1647.0,1161.3 1657.7,1319.6 1668.1,1256.6 1678.2,1262.6 1688.1,1272.0 1697.6,1278.6 1707.0,1275.6 1716.0,1217.9 1724.9,1277.3 1733.5,1187.4 1742.0,1367.4 1750.2,1197.6 1758.3,1185.2 1766.2,1280.9 1773.9,1245.1 1781.4,1255.6 1788.8,1286.0 1796.1,1275.0 1803.2,1185.2 1810.1,1288.7 1817.0,1192.0 1823.7,1204.9 1830.2,1306.6 1836.7,1198.9 1843.1,1213.9 1849.3,1222.0 1855.4,1268.4 1861.4,1306.6 1867.4,1263.2 1873.2,1236.2 1878.9,1219.3 1884.6,1224.4 1890.2,1201.1 1895.6,1178.7 1901.0,1185.2 1906.3,1298.0 1911.6,1242.4 1916.7,1314.1 1921.8,1216.5 1926.8,1215.3 1931.8,1233.5 1936.7,1327.2 1941.5,1303.1 1946.2,1257.2 1950.9,1331.6 1955.5,1256.6 1960.1,1331.6 1964.6,1183.0 1969.1,1281.1 1973.5,1331.6 1977.8,1342.4 1982.1,1215.8 1986.4,1283.7 1990.6,1285.6 1994.7,1324.0 1998.8,1283.8 2002.9,1249.7 2006.9,1186.2 2010.8,1221.2 2014.7,1313.2 2018.6,1279.5 2022.5,1242.6 2026.3,1250.6 2030.0,1266.2 2033.7,1258.9 2037.4,1259.5 2041.0,1267.1 2044.6,1328.5 2048.2,1239.0 2051.8,1266.0 2055.3,1216.6 2058.7,1185.2 2062.1,1165.6 2065.5,1185.2 2068.9,1272.1 2072.3,1238.7 2075.6,1269.8 2078.8,1240.1 2082.1,1273.7 2085.3,1258.1 2088.5,1262.9 2091.6,1297.9 2094.8,1236.8 2097.9,1311.6 2101.0,1267.6 2104.0,1331.6 2107.0,1199.3 2110.0,1233.3 2113.0,1302.1 2116.0,1293.3 2118.9,1249.2 2121.8,1261.8 2124.7,1303.3" fill="none" stroke="#18c0dc" stroke-width="2.6" stroke-dasharray="10.4,10.9"/>
<circle cx="393.1" cy="1296.9" r="15.6" fill="#fff" stroke="#18c0dc" stroke-width="2.1"/>
<circle cx="641.6" cy="1302.3" r="15.6" fill="#fff" stroke="#18c0dc" stroke-width="2.1"/>
<circle cx="787.1" cy="1229.6" r="15.6" fill="#fff" stroke="#18c0dc" stroke-width="2.1"/>
<circle cx="890.2" cy="1241.6" r="15.6" fill="#fff" stroke="#18c0dc" stroke-width="2.1"/>
<circle cx="970.3" cy="1164.6" r="15.6" fill="#fff" stroke="#18c0dc" stroke-width="2.1"/>
<circle cx="1035.6" cy="1204.7" r="15.6" fill="#fff" stroke="#18c0dc" stroke-width="2.1"/>
<circle cx="1090.9" cy="1189.5" r="15.6" fill="#fff" stroke="#18c0dc" stroke-width="2.1"/>
<circle cx="1138.8" cy="1193.8" r="15.6" fill="#fff" stroke="#18c0dc" stroke-width="2.1"/>
<circle cx="1181.1" cy="1146.1" r="15.6" fill="#fff" stroke="#18c0dc" stroke-width="2.1"/>
<circle cx="1218.8" cy="1232.9" r="15.6" fill="#fff" stroke="#18c0dc" stroke-width="2.1"/>
<circle cx="1253.0" cy="1236.1" r="15.6" fill="#fff" stroke="#18c0dc" stroke-width="2.1"/>
<circle cx="1284.2" cy="1215.5" r="15.6" fill="#fff" stroke="#18c0dc" stroke-width="2.1"/>
<circle cx="1312.9" cy="1261.1" r="15.6" fill="#fff" stroke="#18c0dc" stroke-width="2.1"/>
<circle cx="1339.5" cy="1283.9" r="15.6" fill="#fff" stroke="#18c0dc" stroke-width="2.1"/>
<circle cx="1364.3" cy="1255.7" r="15.6" fill="#fff" stroke="#18c0dc" stroke-width="2.1"/>
<circle cx="1387.4" cy="1264.3" r="15.6" fill="#fff" stroke="#18c0dc" stroke-width="2.1"/>
<circle cx="1409.2" cy="1228.5" r="15.6" fill="#fff" stroke="#18c0dc" stroke-width="2.1"/>
<circle cx="1429.7" cy="1189.5" r="15.6" fill="#fff" stroke="#18c0dc" stroke-width="2.1"/>
<circle cx="1449.0" cy="1234.0" r="15.6" fill="#fff" stroke="#18c0dc" stroke-width="2.1"/>
<circle cx="1467.4" cy="1238.3" r="15.6" fill="#fff" stroke="#18c0dc" stroke-width="2.1"/>
<circle cx="1484.9" cy="1250.2" r="15.6" fill="#fff" stroke="#18c0dc" stroke-width="2.1"/>
<circle cx="1501.6" cy="1201.4" r="15.6" fill="#fff" stroke="#18c0dc" stroke-width="2.1"/>
<circle cx="1517.6" cy="1291.4" r="15.6" fill="#fff" stroke="#18c0dc" stroke-width="2.1"/>
<circle cx="1532.8" cy="1217.7" r="15.6" fill="#fff" stroke="#18c0dc" stroke-width="2.1"/>
<circle cx="1547.5" cy="1255.7" r="15.6" fill="#fff" stroke="#18c0dc" stroke-width="2.1"/>
<circle cx="1561.5" cy="1223.1" r="15.6" fill="#fff" stroke="#18c0dc" stroke-width="2.1"/>
<circle cx="1575.1" cy="1270.8" r="15.6" fill="#fff" stroke="#18c0dc" stroke-width="2.1"/>
<circle cx="1588.1" cy="1194.9" r="15.6" fill="#fff" stroke="#18c0dc" stroke-width="2.1"/>
<circle cx="1600.7" cy="1267.6" r="15.6" fill="#fff" stroke="#18c0dc" stroke-width="2.1"/>
<circle cx="1612.9" cy="1239.4" r="15.6" fill="#fff" stroke="#18c0dc" stroke-width="2.1"/>
<circle cx="1624.6" cy="1185.2" r="15.6" fill="#fff" stroke="#18c0dc" stroke-width="2.1"/>
<circle cx="1636.0" cy="1213.0" r="15.6" fill="#fff" stroke="#18c0dc" stroke-width="2.1"/>
<circle cx="1647.0" cy="1161.3" r="15.6" fill="#fff" stroke="#18c0dc" stroke-width="2.1"/>
<circle cx="1657.7" cy="1319.6" r="15.6" fill="#fff" stroke="#18c0dc" stroke-width="2.1"/>
<circle cx="1668.1" cy="1256.6" r="15.6" fill="#fff" stroke="#18c0dc" stroke-width="2.1"/>
<circle cx="1678.2" cy="1262.6" r="15.6" fill="#fff" stroke="#18c0dc" stroke-width="2.1"/>
<circle cx="1688.1" cy="1272.0" r="15.6" fill="#fff" stroke="#18c0dc" stroke-width="2.1"/>
<circle cx="1697.6" cy="1278.6" r="15.6" fill="#fff" stroke="#18c0dc" stroke-width="2.1"/>
<circle cx="1707.0" cy="1275.6" r="15.6" fill="#fff" stroke="#18c0dc" stroke-width="2.1"/>
<circle cx="1716.0" cy="1217.9" r="15.6" fill="#fff" stroke="#18c0dc" stroke-width="2.1"/>
<circle cx="1724.9" cy="1277.3" r="15.6" fill="#fff" stroke="#18c0dc" stroke-width="2.1"/>
<circle cx="1733.5" cy="1187.4" r="15.6" fill="#fff" stroke="#18c0dc" stroke-width="2.1"/>
<circle cx="1742.0" cy="1367.4" r="15.6" fill="#fff" stroke="#18c0dc" stroke-width="2.1"/>
<circle cx="1750.2" cy="1197.6" r="15.6" fill="#fff" stroke="#18c0dc" stroke-width="2.1"/>
<circle cx="1758.3" cy="1185.2" r="15.6" fill="#fff" stroke="#18c0dc" stroke-width="2.1"/>
<circle cx="1766.2" cy="1280.9" r="15.6" fill="#fff" stroke="#18c0dc" stroke-width="2.1"/>
<circle cx="1773.9" cy="1245.1" r="15.6" fill="#fff" stroke="#18c0dc" stroke-width="2.1"/>
<circle cx="1781.4" cy="1255.6" r="15.6" fill="#fff" stroke="#18c0dc" stroke-width="2.1"/>
<circle cx="1788.8" cy="1286.0" r="15.6" fill="#fff" stroke="#18c0dc" stroke-width="2.1"/>
<circle cx="1796.1" cy="1275.0" r="15.6" fill="#fff" stroke="#18c0dc" stroke-width="2.1"/>
<circle cx="1803.2" cy="1185.2" r="15.6" fill="#fff" stroke="#18c0dc" stroke-width="2.1"/>
<circle cx="1810.1" cy="1288.7" r="15.6" fill="#fff" stroke="#18c0dc" stroke-width="2.1"/>
<circle cx="1817.0" cy="1192.0" r="15.6" fill="#fff" stroke="#18c0dc" stroke-width="2.1"/>
<circle cx="1823.7" cy="1204.9" r="15.6" fill="#fff" stroke="#18c0dc" stroke-width="2.1"/>
<circle cx="1830.2" cy="1306.6" r="15.6" fill="#fff" stroke="#18c0dc" stroke-width="2.1"/>
<circle cx="1836.7" cy="1198.9" r="15.6" fill="#fff" stroke="#18c0dc" stroke-width="2.1"/>
<circle cx="1843.1" cy="1213.9" r="15.6" fill="#fff" stroke="#18c0dc" stroke-width="2.1"/>
<circle cx="1849.3" cy="1222.0" r="15.6" fill="#fff" stroke="#18c0dc" stroke-width="2.1"/>
<circle cx="1855.4" cy="1268.4" r="15.6" fill="#fff" stroke="#18c0dc" stroke-width="2.1"/>
<circle cx="1861.4" cy="1306.6" r="15.6" fill="#fff" stroke="#18c0dc" stroke-width="2.1"/>
<circle cx="1867.4" cy="1263.2" r="15.6" fill="#fff" stroke="#18c0dc" stroke-width="2.1"/>
<circle cx="1873.2" cy="1236.2" r="15.6" fill="#fff" stroke="#18c0dc" stroke-width="2.1"/>
<circle cx="1878.9" cy="1219.3" r="15.6" fill="#fff" stroke="#18c0dc" stroke-width="2.1"/>
<circle cx="1884.6" cy="1224.4" r="15.6" fill="#fff" stroke="#18c0dc" stroke-width="2.1"/>
<circle cx="1890.2" cy="1201.1" r="15.6" fill="#fff" stroke="#18c0dc" stroke-width="2.1"/>
<circle cx="1895.6" cy="1178.7" r="15.6" fill="#fff" stroke="#18c0dc" stroke-width="2.1"/>
<circle cx="1901.0" cy="1185.2" r="15.6" fill="#fff" stroke="#18c0dc" stroke-width="2.1"/>
<circle cx="1906.3" cy="1298.0" r="15.6" fill="#fff" stroke="#18c0dc" stroke-width="2.1"/>
<circle cx="1911.6" cy="1242.4" r="15.6" fill="#fff" stroke="#18c0dc" stroke-width="2.1"/>
<circle cx="1916.7" cy="1314.1" r="15.6" fill="#fff" stroke="#18c0dc" stroke-width="2.1"/>
<circle cx="1921.8" cy="1216.5" r="15.6" fill="#fff" stroke="#18c0dc" stroke-width="2.1"/>
<circle cx="1926.8" cy="1215.3" r="15.6" fill="#fff" stroke="#18c0dc" stroke-width="2.1"/>
<circle cx="1931.8" cy="1233.5" r="15.6" fill="#fff" stroke="#18c0dc" stroke-width="2.1"/>
<circle cx="1936.7" cy="1327.2" r="15.6" fill="#fff" stroke="#18c0dc" stroke-width="2.1"/>
<circle cx="1941.5" cy="1303.1" r="15.6" fill="#fff" stroke="#18c0dc" stroke-width="2.1"/>
<circle cx="1946.2" cy="1257.2" r="15.6" fill="#fff" stroke="#18c0dc" stroke-width="2.1"/>
<circle cx="1950.9" cy="1331.6" r="15.6" fill="#fff" stroke="#18c0dc" stroke-width="2.1"/>
<circle cx="1955.5" cy="1256.6" r="15.6" fill="#fff" stroke="#18c0dc" stroke-width="2.1"/>
<circle cx="1960.1" cy="1331.6" r="15.6" fill="#fff" stroke="#18c0dc" stroke-width="2.1"/>
<circle cx="1964.6" cy="1183.0" r="15.6" fill="#fff" stroke="#18c0dc" stroke-width="2.1"/>
<circle cx="1969.1" cy="1281.1" r="15.6" fill="#fff" stroke="#18c0dc" stroke-width="2.1"/>
<circle cx="1973.5" cy="1331.6" r="15.6" fill="#fff" stroke="#18c0dc" stroke-width="2.1"/>
<circle cx="1977.8" cy="1342.4" r="15.6" fill="#fff" stroke="#18c0dc" stroke-width="2.1"/>
<circle cx="1982.1" cy="1215.8" r="15.6" fill="#fff" stroke="#18c0dc" stroke-width="2.1"/>
<circle cx="1986.4" cy="1283.7" r="15.6" fill="#fff" stroke="#18c0dc" stroke-width="2.1"/>
<circle cx="1990.6" cy="1285.6" r="15.6" fill="#fff" stroke="#18c0dc" stroke-width="2.1"/>
<circle cx="1994.7" cy="1324.0" r="15.6" fill="#fff" stroke="#18c0dc" stroke-width="2.1"/>
<circle cx="1998.8" cy="1283.8" r="15.6" fill="#fff" stroke="#18c0dc" stroke-width="2.1"/>
<circle cx="2002.9" cy="1249.7" r="15.6" fill="#fff" stroke="#18c0dc" stroke-width="2.1"/>
<circle cx="2006.9" cy="1186.2" r="15.6" fill="#fff" stroke="#18c0dc" stroke-width="2.1"/>
<circle cx="2010.8" cy="1221.2" r="15.6" fill="#fff" stroke="#18c0dc" stroke-width="2.1"/>
<circle cx="2014.7" cy="1313.2" r="15.6" fill="#fff" stroke="#18c0dc" stroke-width="2.1"/>
<circle cx="2018.6" cy="1279.5" r="15.6" fill="#fff" stroke="#18c0dc" stroke-width="2.1"/>
<circle cx="2022.5" cy="1242.6" r="15.6" fill="#fff" stroke="#18c0dc" stroke-width="2.1"/>
<circle cx="2026.3" cy="1250.6" r="15.6" fill="#fff" stroke="#18c0dc" stroke-width="2.1"/>
<circle cx="2030.0" cy="1266.2" r="15.6" fill="#fff" stroke="#18c0dc" stroke-width="2.1"/>
<circle cx="2033.7" cy="1258.9" r="15.6" fill="#fff" stroke="#18c0dc" stroke-width="2.1"/>
<circle cx="2037.4" cy="1259.5" r="15.6" fill="#fff" stroke="#18c0dc" stroke-width="2.1"/>
<circle cx="2041.0" cy="1267.1" r="15.6" fill="#fff" stroke="#18c0dc" stroke-width="2.1"/>
<circle cx="2044.6" cy="1328.5" r="15.6" fill="#fff" stroke="#18c0dc" stroke-width="2.1"/>
<circle cx="2048.2" cy="1239.0" r="15.6" fill="#fff" stroke="#18c0dc" stroke-width="2.1"/>
<circle cx="2051.8" cy="1266.0" r="15.6" fill="#fff" stroke="#18c0dc" stroke-width="2.1"/>
<circle cx="2055.3" cy="1216.6" r="15.6" fill="#fff" stroke="#18c0dc" stroke-width="2.1"/>
<circle cx="2058.7" cy="1185.2" r="15.6" fill="#fff" stroke="#18c0dc" stroke-width="2.1"/>
<circle cx="2062.1" cy="1165.6" r="15.6" fill="#fff" stroke="#18c0dc" stroke-width="2.1"/>
<circle cx="2065.5" cy="1185.2" r="15.6" fill="#fff" stroke="#18c0dc" stroke-width="2.1"/>
<circle cx="2068.9" cy="1272.1" r="15.6" fill="#fff" stroke="#18c0dc" stroke-width="2.1"/>
<circle cx="2072.3" cy="1238.7" r="15.6" fill="#fff" stroke="#18c0dc" stroke-width="2.1"/>
<circle cx="2075.6" cy="1269.8" r="15.6" fill="#fff" stroke="#18c0dc" stroke-width="2.1"/>
<circle cx="2078.8" cy="1240.1" r="15.6" fill="#fff" stroke="#18c0dc" stroke-width="2.1"/>
<circle cx="2082.1" cy="1273.7" r="15.6" fill="#fff" stroke="#18c0dc" stroke-width="2.1"/>
<circle cx="2085.3" cy="1258.1" r="15.6" fill="#fff" stroke="#18c0dc" stroke-width="2.1"/>
<circle cx="2088.5" cy="1262.9" r="15.6" fill="#fff" stroke="#18c0dc" stroke-width="2.1"/>
<circle cx="2091.6" cy="1297.9" r="15.6" fill="#fff" stroke="#18c0dc" stroke-width="2.1"/>
<circle cx="2094.8" cy="1236.8" r="15.6" fill="#fff" stroke="#18c0dc" stroke-width="2.1"/>
<circle cx="2097.9" cy="1311.6" r="15.6" fill="#fff" stroke="#18c0dc" stroke-width="2.1"/>
<circle cx="2101.0" cy="1267.6" r="15.6" fill="#fff" stroke="#18c0dc" stroke-width="2.1"/>
<circle cx="2104.0" cy="1331.6" r="15.6" fill="#fff" stroke="#18c0dc" stroke-width="2.1"/>
<circle cx="2107.0" cy="1199.3" r="15.6" fill="#fff" stroke="#18c0dc" stroke-width="2.1"/>
<circle cx="2110.0" cy="1233.3" r="15.6" fill="#fff" stroke="#18c0dc" stroke-width="2.1"/>
<circle cx="2113.0" cy="1302.1" r="15.6" fill="#fff" stroke="#18c0dc" stroke-width="2.1"/>
<circle cx="2116.0" cy="1293.3" r="15.6" fill="#fff" stroke="#18c0dc" stroke-width="2.1"/>
<circle cx="2118.9" cy="1249.2" r="15.6" fill="#fff" stroke="#18c0dc" stroke-width="2.1"/>
<circle cx="2121.8" cy="1261.8" r="15.6" fill="#fff" stroke="#18c0dc" stroke-width="2.1"/>
<circle cx="2124.7" cy="1303.3" r="15.6" fill="#fff" stroke="#18c0dc" stroke-width="2.1"/>
<polyline points="393.1,1240.5 641.6,1289.3 787.1,1258.9 890.2,1214.4 970.3,1216.6 1035.6,1186.2 1090.9,1159.1 1138.8,1237.2 1181.1,1243.7 1218.8,1215.5 1253.0,1198.2 1284.2,1250.2 1312.9,1235.1 1339.5,1223.1 1364.3,1240.5 1387.4,1189.5 1409.2,1239.4 1429.7,1251.3 1449.0,1192.8 1467.4,1213.4 1484.9,1224.2 1501.6,1192.8 1517.6,1221.0 1532.8,1190.6 1547.5,1260.0 1561.5,1234.0 1575.1,1204.7 1588.1,1225.3 1600.7,1212.3 1612.9,1251.3 1624.6,1187.3 1636.0,1231.2 1647.0,1203.6 1657.7,1224.4 1668.1,1247.0 1678.2,1210.1 1688.1,1300.1 1697.6,1270.8 1707.0,1255.8 1716.0,1222.0 1724.9,1281.7 1733.5,1217.7 1742.0,1312.1 1750.2,1167.8 1758.3,1190.6 1766.2,1311.0 1773.9,1274.3 1781.4,1245.9 1788.8,1218.8 1796.1,1251.8 1803.2,1178.7 1810.1,1286.0 1817.0,1189.5 1823.7,1233.5 1830.2,1215.5 1836.7,1187.2 1843.1,1153.7 1849.3,1207.4 1855.4,1218.8 1861.4,1221.0 1867.4,1277.3 1873.2,1238.3 1878.9,1199.3 1884.6,1218.8 1890.2,1215.5 1895.6,1277.3 1901.0,1138.5 1906.3,1222.8 1911.6,1268.7 1916.7,1307.2 1921.8,1235.9 1926.8,1245.4 1931.8,1266.5 1936.7,1235.1 1941.5,1281.7 1946.2,1272.8 1950.9,1360.9 1955.5,1225.3 1960.1,1281.7 1964.6,1193.8 1969.1,1301.2 1973.5,1315.3 1977.8,1306.7 1982.1,1210.1 1986.4,1273.7 1990.6,1279.5 1994.7,1235.1 1998.8,1264.3 2002.9,1249.9 2006.9,1267.1 2010.8,1258.5 2014.7,1308.8 2018.6,1286.8 2022.5,1261.1 2026.3,1240.4 2030.0,1230.7 2033.7,1240.2 2037.4,1279.7 2041.0,1222.4 2044.6,1308.8 2048.2,1257.6 2051.8,1279.5 2055.3,1211.3 2058.7,1196.0 2062.1,1235.2 2065.5,1170.0 2068.9,1238.6 2072.3,1196.0 2075.6,1249.1 2078.8,1256.7 2082.1,1254.8 2085.3,1231.1 2088.5,1239.1 2091.6,1255.9 2094.8,1228.5 2097.9,1278.0 2101.0,1270.8 2104.0,1286.3 2107.0,1311.0 2110.0,1235.7 2113.0,1281.3 2116.0,1241.6 2118.9,1261.1 2121.8,1249.8 2124.7,1244.7" fill="none" stroke="#18c0dc" stroke-width="2.0"/>
<circle cx="393.1" cy="1240.5" r="16.5" fill="url(#gC)"/>
<circle cx="641.6" cy="1289.3" r="16.5" fill="url(#gC)"/>
<circle cx="787.1" cy="1258.9" r="16.5" fill="url(#gC)"/>
<circle cx="890.2" cy="1214.4" r="16.5" fill="url(#gC)"/>
<circle cx="970.3" cy="1216.6" r="16.5" fill="url(#gC)"/>
<circle cx="1035.6" cy="1186.2" r="16.5" fill="url(#gC)"/>
<circle cx="1090.9" cy="1159.1" r="16.5" fill="url(#gC)"/>
<circle cx="1138.8" cy="1237.2" r="16.5" fill="url(#gC)"/>
<circle cx="1181.1" cy="1243.7" r="16.5" fill="url(#gC)"/>
<circle cx="1218.8" cy="1215.5" r="16.5" fill="url(#gC)"/>
<circle cx="1253.0" cy="1198.2" r="16.5" fill="url(#gC)"/>
<circle cx="1284.2" cy="1250.2" r="16.5" fill="url(#gC)"/>
<circle cx="1312.9" cy="1235.1" r="16.5" fill="url(#gC)"/>
<circle cx="1339.5" cy="1223.1" r="16.5" fill="url(#gC)"/>
<circle cx="1364.3" cy="1240.5" r="16.5" fill="url(#gC)"/>
<circle cx="1387.4" cy="1189.5" r="16.5" fill="url(#gC)"/>
<circle cx="1409.2" cy="1239.4" r="16.5" fill="url(#gC)"/>
<circle cx="1429.7" cy="1251.3" r="16.5" fill="url(#gC)"/>
<circle cx="1449.0" cy="1192.8" r="16.5" fill="url(#gC)"/>
<circle cx="1467.4" cy="1213.4" r="16.5" fill="url(#gC)"/>
<circle cx="1484.9" cy="1224.2" r="16.5" fill="url(#gC)"/>
<circle cx="1501.6" cy="1192.8" r="16.5" fill="url(#gC)"/>
<circle cx="1517.6" cy="1221.0" r="16.5" fill="url(#gC)"/>
<circle cx="1532.8" cy="1190.6" r="16.5" fill="url(#gC)"/>
<circle cx="1547.5" cy="1260.0" r="16.5" fill="url(#gC)"/>
<circle cx="1561.5" cy="1234.0" r="16.5" fill="url(#gC)"/>
<circle cx="1575.1" cy="1204.7" r="16.5" fill="url(#gC)"/>
<circle cx="1588.1" cy="1225.3" r="16.5" fill="url(#gC)"/>
<circle cx="1600.7" cy="1212.3" r="16.5" fill="url(#gC)"/>
<circle cx="1612.9" cy="1251.3" r="16.5" fill="url(#gC)"/>
<circle cx="1624.6" cy="1187.3" r="16.5" fill="url(#gC)"/>
<circle cx="1636.0" cy="1231.2" r="16.5" fill="url(#gC)"/>
<circle cx="1647.0" cy="1203.6" r="16.5" fill="url(#gC)"/>
<circle cx="1657.7" cy="1224.4" r="16.5" fill="url(#gC)"/>
<circle cx="1668.1" cy="1247.0" r="16.5" fill="url(#gC)"/>
<circle cx="1678.2" cy="1210.1" r="16.5" fill="url(#gC)"/>
<circle cx="1688.1" cy="1300.1" r="16.5" fill="url(#gC)"/>
<circle cx="1697.6" cy="1270.8" r="16.5" fill="url(#gC)"/>
<circle cx="1707.0" cy="1255.8" r="16.5" fill="url(#gC)"/>
<circle cx="1716.0" cy="1222.0" r="16.5" fill="url(#gC)"/>
<circle cx="1724.9" cy="1281.7" r="16.5" fill="url(#gC)"/>
<circle cx="1733.5" cy="1217.7" r="16.5" fill="url(#gC)"/>
<circle cx="1742.0" cy="1312.1" r="16.5" fill="url(#gC)"/>
<circle cx="1750.2" cy="1167.8" r="16.5" fill="url(#gC)"/>
<circle cx="1758.3" cy="1190.6" r="16.5" fill="url(#gC)"/>
<circle cx="1766.2" cy="1311.0" r="16.5" fill="url(#gC)"/>
<circle cx="1773.9" cy="1274.3" r="16.5" fill="url(#gC)"/>
<circle cx="1781.4" cy="1245.9" r="16.5" fill="url(#gC)"/>
<circle cx="1788.8" cy="1218.8" r="16.5" fill="url(#gC)"/>
<circle cx="1796.1" cy="1251.8" r="16.5" fill="url(#gC)"/>
<circle cx="1803.2" cy="1178.7" r="16.5" fill="url(#gC)"/>
<circle cx="1810.1" cy="1286.0" r="16.5" fill="url(#gC)"/>
<circle cx="1817.0" cy="1189.5" r="16.5" fill="url(#gC)"/>
<circle cx="1823.7" cy="1233.5" r="16.5" fill="url(#gC)"/>
<circle cx="1830.2" cy="1215.5" r="16.5" fill="url(#gC)"/>
<circle cx="1836.7" cy="1187.2" r="16.5" fill="url(#gC)"/>
<circle cx="1843.1" cy="1153.7" r="16.5" fill="url(#gC)"/>
<circle cx="1849.3" cy="1207.4" r="16.5" fill="url(#gC)"/>
<circle cx="1855.4" cy="1218.8" r="16.5" fill="url(#gC)"/>
<circle cx="1861.4" cy="1221.0" r="16.5" fill="url(#gC)"/>
<circle cx="1867.4" cy="1277.3" r="16.5" fill="url(#gC)"/>
<circle cx="1873.2" cy="1238.3" r="16.5" fill="url(#gC)"/>
<circle cx="1878.9" cy="1199.3" r="16.5" fill="url(#gC)"/>
<circle cx="1884.6" cy="1218.8" r="16.5" fill="url(#gC)"/>
<circle cx="1890.2" cy="1215.5" r="16.5" fill="url(#gC)"/>
<circle cx="1895.6" cy="1277.3" r="16.5" fill="url(#gC)"/>
<circle cx="1901.0" cy="1138.5" r="16.5" fill="url(#gC)"/>
<circle cx="1906.3" cy="1222.8" r="16.5" fill="url(#gC)"/>
<circle cx="1911.6" cy="1268.7" r="16.5" fill="url(#gC)"/>
<circle cx="1916.7" cy="1307.2" r="16.5" fill="url(#gC)"/>
<circle cx="1921.8" cy="1235.9" r="16.5" fill="url(#gC)"/>
<circle cx="1926.8" cy="1245.4" r="16.5" fill="url(#gC)"/>
<circle cx="1931.8" cy="1266.5" r="16.5" fill="url(#gC)"/>
<circle cx="1936.7" cy="1235.1" r="16.5" fill="url(#gC)"/>
<circle cx="1941.5" cy="1281.7" r="16.5" fill="url(#gC)"/>
<circle cx="1946.2" cy="1272.8" r="16.5" fill="url(#gC)"/>
<circle cx="1950.9" cy="1360.9" r="16.5" fill="url(#gC)"/>
<circle cx="1955.5" cy="1225.3" r="16.5" fill="url(#gC)"/>
<circle cx="1960.1" cy="1281.7" r="16.5" fill="url(#gC)"/>
<circle cx="1964.6" cy="1193.8" r="16.5" fill="url(#gC)"/>
<circle cx="1969.1" cy="1301.2" r="16.5" fill="url(#gC)"/>
<circle cx="1973.5" cy="1315.3" r="16.5" fill="url(#gC)"/>
<circle cx="1977.8" cy="1306.7" r="16.5" fill="url(#gC)"/>
<circle cx="1982.1" cy="1210.1" r="16.5" fill="url(#gC)"/>
<circle cx="1986.4" cy="1273.7" r="16.5" fill="url(#gC)"/>
<circle cx="1990.6" cy="1279.5" r="16.5" fill="url(#gC)"/>
<circle cx="1994.7" cy="1235.1" r="16.5" fill="url(#gC)"/>
<circle cx="1998.8" cy="1264.3" r="16.5" fill="url(#gC)"/>
<circle cx="2002.9" cy="1249.9" r="16.5" fill="url(#gC)"/>
<circle cx="2006.9" cy="1267.1" r="16.5" fill="url(#gC)"/>
<circle cx="2010.8" cy="1258.5" r="16.5" fill="url(#gC)"/>
<circle cx="2014.7" cy="1308.8" r="16.5" fill="url(#gC)"/>
<circle cx="2018.6" cy="1286.8" r="16.5" fill="url(#gC)"/>
<circle cx="2022.5" cy="1261.1" r="16.5" fill="url(#gC)"/>
<circle cx="2026.3" cy="1240.4" r="16.5" fill="url(#gC)"/>
<circle cx="2030.0" cy="1230.7" r="16.5" fill="url(#gC)"/>
<circle cx="2033.7" cy="1240.2" r="16.5" fill="url(#gC)"/>
<circle cx="2037.4" cy="1279.7" r="16.5" fill="url(#gC)"/>
<circle cx="2041.0" cy="1222.4" r="16.5" fill="url(#gC)"/>
<circle cx="2044.6" cy="1308.8" r="16.5" fill="url(#gC)"/>
<circle cx="2048.2" cy="1257.6" r="16.5" fill="url(#gC)"/>
<circle cx="2051.8" cy="1279.5" r="16.5" fill="url(#gC)"/>
<circle cx="2055.3" cy="1211.3" r="16.5" fill="url(#gC)"/>
<circle cx="2058.7" cy="1196.0" r="16.5" fill="url(#gC)"/>
<circle cx="2062.1" cy="1235.2" r="16.5" fill="url(#gC)"/>
<circle cx="2065.5" cy="1170.0" r="16.5" fill="url(#gC)"/>
<circle cx="2068.9" cy="1238.6" r="16.5" fill="url(#gC)"/>
<circle cx="2072.3" cy="1196.0" r="16.5" fill="url(#gC)"/>
<circle cx="2075.6" cy="1249.1" r="16.5" fill="url(#gC)"/>
<circle cx="2078.8" cy="1256.7" r="16.5" fill="url(#gC)"/>
<circle cx="2082.1" cy="1254.8" r="16.5" fill="url(#gC)"/>
<circle cx="2085.3" cy="1231.1" r="16.5" fill="url(#gC)"/>
<circle cx="2088.5" cy="1239.1" r="16.5" fill="url(#gC)"/>
<circle cx="2091.6" cy="1255.9" r="16.5" fill="url(#gC)"/>
<circle cx="2094.8" cy="1228.5" r="16.5" fill="url(#gC)"/>
<circle cx="2097.9" cy="1278.0" r="16.5" fill="url(#gC)"/>
<circle cx="2101.0" cy="1270.8" r="16.5" fill="url(#gC)"/>
<circle cx="2104.0" cy="1286.3" r="16.5" fill="url(#gC)"/>
<circle cx="2107.0" cy="1311.0" r="16.5" fill="url(#gC)"/>
<circle cx="2110.0" cy="1235.7" r="16.5" fill="url(#gC)"/>
<circle cx="2113.0" cy="1281.3" r="16.5" fill="url(#gC)"/>
<circle cx="2116.0" cy="1241.6" r="16.5" fill="url(#gC)"/>
<circle cx="2118.9" cy="1261.1" r="16.5" fill="url(#gC)"/>
<circle cx="2121.8" cy="1249.8" r="16.5" fill="url(#gC)"/>
<circle cx="2124.7" cy="1244.7" r="16.5" fill="url(#gC)"/>
</g>
<line x1="461.6" y1="1580" x2="569.8" y2="1580" stroke="#808080" stroke-width="2.7"/>
<circle cx="516.2" cy="1580.5" r="19.2" fill="url(#gG)"/>
<text x="596.8" y="1600.5" font-family="'Liberation Sans', Arial, sans-serif" font-size="62" fill="#000">ZnO</text>
<line x1="461.6" y1="1643.5" x2="569.8" y2="1643.5" stroke="#f87878" stroke-width="2.7"/>
<circle cx="516.2" cy="1644.0" r="19.2" fill="url(#gP)"/>
<text x="596.8" y="1664.0" font-family="'Liberation Sans', Arial, sans-serif" font-size="62" fill="#000">ZnMgO</text>
<line x1="461.6" y1="1707.3" x2="569.8" y2="1707.3" stroke="#20c2de" stroke-width="2.7"/>
<circle cx="516.2" cy="1707.8" r="19.2" fill="url(#gC)"/>
<text x="596.8" y="1727.8" font-family="'Liberation Sans', Arial, sans-serif" font-size="62" fill="#000">ZnMgO/ZnO</text>
</svg>
</body></html>
